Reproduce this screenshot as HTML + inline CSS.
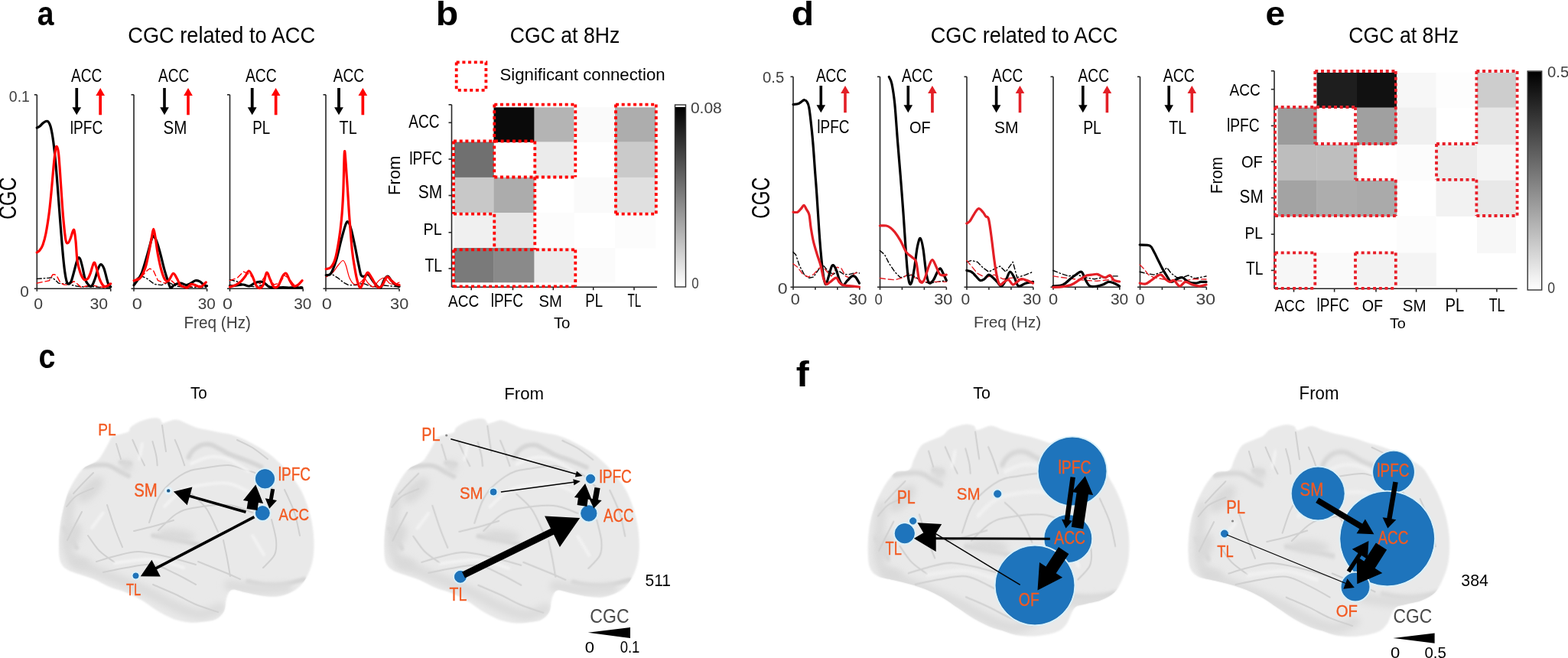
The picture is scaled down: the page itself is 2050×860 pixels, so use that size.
<!DOCTYPE html>
<html><head><meta charset="utf-8"><title>CGC figure</title>
<style>
html,body{margin:0;padding:0;background:#fff;}
svg{display:block;}
text{font-family:'Liberation Sans', Arial, sans-serif;}
</style></head>
<body>
<svg width="2050" height="860" viewBox="0 0 2050 860">
<rect width="2050" height="860" fill="#fff"/>
<text x="48.83" y="32.66" font-size="43.64" textLength="21.73" lengthAdjust="spacingAndGlyphs" fill="#000" font-weight="bold">a</text>
<text x="569.66" y="32.66" font-size="44.35" textLength="29.51" lengthAdjust="spacingAndGlyphs" fill="#000" font-weight="bold">b</text>
<text x="167.24" y="55.50" font-size="30.07" textLength="244.91" lengthAdjust="spacingAndGlyphs" fill="#000">CGC related to ACC</text>
<text x="666.67" y="55.60" font-size="29.86" textLength="143.67" lengthAdjust="spacingAndGlyphs" fill="#000">CGC at 8Hz</text>
<line x1="48.30" y1="123.80" x2="48.30" y2="377.30" stroke="#262626" stroke-width="1.6"/>
<line x1="44.80" y1="123.80" x2="48.30" y2="123.80" stroke="#262626" stroke-width="1.6"/>
<line x1="44.80" y1="377.30" x2="144.70" y2="377.30" stroke="#262626" stroke-width="1.6"/>
<line x1="48.30" y1="377.30" x2="48.30" y2="380.80" stroke="#262626" stroke-width="1.6"/>
<line x1="144.70" y1="377.30" x2="144.70" y2="380.80" stroke="#262626" stroke-width="1.6"/>
<text x="93.00" y="107.27" font-size="23.24" textLength="40.19" lengthAdjust="spacingAndGlyphs" fill="#000">ACC</text>
<polygon points="98.4,115.0 98.4,140.3 94.4,140.3 100.2,150.3 106.1,140.3 102.1,140.3 102.1,115.0" fill="#000"/>
<polygon points="133.0,150.3 133.0,125.0 137.0,125.0 131.2,115.0 125.3,125.0 129.3,125.0 129.3,150.3" fill="#ff0000"/>
<text x="91.76" y="174.76" font-size="23.81" textLength="42.56" lengthAdjust="spacingAndGlyphs" fill="#000">lPFC</text>
<line x1="175.00" y1="123.80" x2="175.00" y2="377.30" stroke="#262626" stroke-width="1.6"/>
<line x1="171.50" y1="123.80" x2="175.00" y2="123.80" stroke="#262626" stroke-width="1.6"/>
<line x1="171.50" y1="377.30" x2="270.60" y2="377.30" stroke="#262626" stroke-width="1.6"/>
<line x1="175.00" y1="377.30" x2="175.00" y2="380.80" stroke="#262626" stroke-width="1.6"/>
<line x1="270.60" y1="377.30" x2="270.60" y2="380.80" stroke="#262626" stroke-width="1.6"/>
<text x="207.00" y="107.27" font-size="23.24" textLength="40.29" lengthAdjust="spacingAndGlyphs" fill="#000">ACC</text>
<polygon points="213.2,115.0 213.2,140.3 209.2,140.3 215.0,150.3 220.8,140.3 216.8,140.3 216.8,115.0" fill="#000"/>
<polygon points="247.8,150.3 247.8,125.0 251.8,125.0 246.0,115.0 240.2,125.0 244.2,125.0 244.2,150.3" fill="#ff0000"/>
<text x="213.48" y="174.77" font-size="23.24" textLength="30.77" lengthAdjust="spacingAndGlyphs" fill="#000">SM</text>
<line x1="300.50" y1="123.80" x2="300.50" y2="377.30" stroke="#262626" stroke-width="1.6"/>
<line x1="297.00" y1="123.80" x2="300.50" y2="123.80" stroke="#262626" stroke-width="1.6"/>
<line x1="297.00" y1="377.30" x2="396.20" y2="377.30" stroke="#262626" stroke-width="1.6"/>
<line x1="300.50" y1="377.30" x2="300.50" y2="380.80" stroke="#262626" stroke-width="1.6"/>
<line x1="396.20" y1="377.30" x2="396.20" y2="380.80" stroke="#262626" stroke-width="1.6"/>
<text x="321.00" y="107.27" font-size="23.24" textLength="40.70" lengthAdjust="spacingAndGlyphs" fill="#000">ACC</text>
<polygon points="327.8,115.0 327.8,140.3 323.8,140.3 329.7,150.3 335.6,140.3 331.6,140.3 331.6,115.0" fill="#000"/>
<polygon points="362.5,150.3 362.5,125.0 366.5,125.0 360.6,115.0 354.8,125.0 358.8,125.0 358.8,150.3" fill="#ff0000"/>
<text x="330.30" y="175.00" font-size="23.91" textLength="22.92" lengthAdjust="spacingAndGlyphs" fill="#000">PL</text>
<line x1="426.00" y1="123.80" x2="426.00" y2="377.30" stroke="#262626" stroke-width="1.6"/>
<line x1="422.50" y1="123.80" x2="426.00" y2="123.80" stroke="#262626" stroke-width="1.6"/>
<line x1="422.50" y1="377.30" x2="522.00" y2="377.30" stroke="#262626" stroke-width="1.6"/>
<line x1="426.00" y1="377.30" x2="426.00" y2="380.80" stroke="#262626" stroke-width="1.6"/>
<line x1="522.00" y1="377.30" x2="522.00" y2="380.80" stroke="#262626" stroke-width="1.6"/>
<text x="435.70" y="107.27" font-size="23.24" textLength="40.29" lengthAdjust="spacingAndGlyphs" fill="#000">ACC</text>
<polygon points="441.1,115.0 441.1,140.3 437.1,140.3 443.0,150.3 448.9,140.3 444.9,140.3 444.9,115.0" fill="#000"/>
<polygon points="476.2,150.3 476.2,125.0 480.2,125.0 474.4,115.0 468.5,125.0 472.5,125.0 472.5,150.3" fill="#ff0000"/>
<text x="443.61" y="175.00" font-size="23.91" textLength="23.03" lengthAdjust="spacingAndGlyphs" fill="#000">TL</text>
<text x="11.82" y="132.79" font-size="21.13" textLength="27.06" lengthAdjust="spacingAndGlyphs" fill="#404040">0.1</text>
<text x="26.17" y="387.80" font-size="20.28" textLength="11.59" lengthAdjust="spacingAndGlyphs" fill="#404040">0</text>
<text x="44.15" y="403.59" font-size="20.85" textLength="11.82" lengthAdjust="spacingAndGlyphs" fill="#404040">0</text>
<text x="117.45" y="403.59" font-size="20.85" textLength="23.64" lengthAdjust="spacingAndGlyphs" fill="#404040">30</text>
<text x="172.86" y="403.59" font-size="20.85" textLength="13.09" lengthAdjust="spacingAndGlyphs" fill="#404040">0</text>
<text x="258.87" y="403.59" font-size="20.85" textLength="23.00" lengthAdjust="spacingAndGlyphs" fill="#404040">30</text>
<text x="291.07" y="403.59" font-size="20.85" textLength="12.98" lengthAdjust="spacingAndGlyphs" fill="#404040">0</text>
<text x="384.27" y="403.59" font-size="20.85" textLength="23.11" lengthAdjust="spacingAndGlyphs" fill="#404040">30</text>
<text x="420.66" y="403.59" font-size="20.85" textLength="13.09" lengthAdjust="spacingAndGlyphs" fill="#404040">0</text>
<text x="510.13" y="403.59" font-size="20.85" textLength="24.07" lengthAdjust="spacingAndGlyphs" fill="#404040">30</text>
<text x="240.44" y="429.03" font-size="21.28" textLength="87.45" lengthAdjust="spacingAndGlyphs" fill="#404040">Freq (Hz)</text>
<text x="0" y="0" transform="translate(21.28,286.84) rotate(-90)" font-size="31.83" textLength="55.16" lengthAdjust="spacingAndGlyphs" fill="#000">CGC</text>
<polyline points="48.3,364.4 56.0,363.8 64.2,363.2 68.2,362.8 72.3,366.0 76.4,370.1 82.0,371.0 87.0,370.1 92.0,372.0 100.0,374.0 110.0,375.0 120.0,374.5 130.0,375.5 140.0,376.0 144.0,376.0" fill="none" stroke="#000" stroke-width="1.4" stroke-linejoin="round" stroke-linecap="round" stroke-dasharray="6,3,1.5,3"/>
<polyline points="48.3,370.1 56.0,368.5 64.2,366.9 69.1,358.7 71.5,358.7 74.3,360.7 78.8,369.3 83.7,372.1 88.6,372.1 92.7,370.1 96.7,367.7 101.0,371.0 106.5,375.8 111.4,374.2 119.5,372.5 127.6,374.2 135.8,375.8 143.9,373.4" fill="none" stroke="#ff0000" stroke-width="1.4" stroke-linejoin="round" stroke-linecap="round" stroke-dasharray="7,4"/>
<path d="M48.3,167.0 C48.9,166.7 50.7,166.0 52.0,165.0 C53.3,164.0 54.7,162.1 56.0,161.0 C57.3,159.9 58.8,158.8 60.0,158.5 C61.2,158.2 62.0,157.9 63.0,159.0 C64.0,160.1 65.0,161.5 66.0,165.0 C67.0,168.5 68.0,173.3 69.0,180.0 C70.0,186.7 71.0,195.0 72.0,205.0 C73.0,215.0 74.0,227.5 75.0,240.0 C76.0,252.5 77.0,267.0 78.0,280.0 C79.0,293.0 80.1,307.2 81.0,318.0 C81.9,328.8 82.7,337.5 83.5,345.0 C84.3,352.5 85.2,358.8 86.0,363.0 C86.8,367.2 87.3,368.7 88.0,370.0 C88.7,371.3 89.2,371.3 90.0,371.0 C90.8,370.7 92.0,370.2 93.0,368.0 C94.0,365.8 94.8,362.2 96.0,358.0 C97.2,353.8 98.9,346.5 100.0,343.0 C101.1,339.5 101.7,337.7 102.5,337.0 C103.3,336.3 104.1,336.8 105.0,339.0 C105.9,341.2 107.0,345.8 108.0,350.0 C109.0,354.2 109.9,360.5 111.0,364.0 C112.1,367.5 113.2,369.3 114.6,371.0 C116.0,372.7 117.9,375.2 119.5,374.2 C121.1,373.2 122.6,368.7 124.0,365.0 C125.4,361.3 126.7,355.2 128.0,352.0 C129.3,348.8 130.4,345.9 131.7,345.7 C133.0,345.5 134.6,347.9 135.8,350.6 C137.0,353.3 138.1,358.6 139.0,362.0 C139.9,365.4 140.6,368.7 141.5,370.9 C142.4,373.1 144.2,374.3 144.7,375.0" fill="none" stroke="#000" stroke-width="3.2" stroke-linejoin="round" stroke-linecap="round"/>
<path d="M48.3,330.0 C48.9,329.5 50.7,328.7 52.0,327.0 C53.3,325.3 54.7,323.7 56.0,320.0 C57.3,316.3 58.7,311.7 60.0,305.0 C61.3,298.3 62.8,288.8 64.0,280.0 C65.2,271.2 66.0,262.3 67.0,252.0 C68.0,241.7 69.1,227.3 70.0,218.0 C70.9,208.7 71.8,200.4 72.5,196.0 C73.2,191.6 73.7,190.9 74.4,191.6 C75.1,192.3 75.8,194.4 76.5,200.0 C77.2,205.6 77.8,215.8 78.5,225.0 C79.2,234.2 79.8,244.5 80.5,255.0 C81.2,265.5 82.1,278.2 83.0,288.0 C83.9,297.8 85.0,309.1 86.0,314.0 C87.0,318.9 88.0,317.8 89.0,317.5 C90.0,317.2 91.0,314.4 92.0,312.0 C93.0,309.6 94.2,304.8 95.0,303.0 C95.8,301.2 96.3,299.0 97.0,301.0 C97.7,303.0 98.3,308.5 99.0,315.0 C99.7,321.5 100.0,333.1 101.0,340.0 C102.0,346.9 103.5,352.1 104.9,356.3 C106.4,360.5 108.1,363.9 109.7,365.2 C111.3,366.5 113.2,365.6 114.6,364.4 C116.0,363.2 116.5,361.4 117.9,357.9 C119.3,354.4 121.5,344.6 122.8,343.3 C124.1,342.0 124.8,346.3 126.0,349.8 C127.2,353.3 128.6,360.5 130.1,364.4 C131.6,368.3 133.5,371.8 135.0,373.4 C136.5,375.0 137.4,374.6 139.0,374.2 C140.6,373.8 143.8,371.4 144.7,370.9" fill="none" stroke="#ff0000" stroke-width="3.2" stroke-linejoin="round" stroke-linecap="round"/>
<polyline points="175.0,372.6 180.0,366.0 185.6,361.0 192.6,364.4 201.9,371.4 211.2,372.6 220.5,369.0 230.0,374.0 240.0,375.0 255.0,375.5 270.0,375.5" fill="none" stroke="#000" stroke-width="1.4" stroke-linejoin="round" stroke-linecap="round" stroke-dasharray="6,3,1.5,3"/>
<polyline points="175.0,368.0 181.0,362.0 187.9,358.6 193.0,353.0 196.0,351.0 200.7,354.0 206.5,366.7 215.8,370.2 224.0,366.7 230.0,372.0 240.0,375.0 255.0,374.0 270.0,373.0" fill="none" stroke="#ff0000" stroke-width="1.4" stroke-linejoin="round" stroke-linecap="round" stroke-dasharray="7,4"/>
<path d="M175.1,372.6 C175.9,371.5 178.2,368.8 180.0,366.0 C181.8,363.2 183.5,361.5 185.6,356.0 C187.7,350.5 190.5,340.3 192.6,333.0 C194.7,325.7 197.1,316.1 198.4,312.0 C199.8,307.9 199.5,307.8 200.7,308.6 C201.8,309.4 203.8,312.6 205.3,316.7 C206.9,320.8 208.4,327.2 210.0,333.0 C211.6,338.8 213.1,346.0 214.7,351.6 C216.2,357.2 218.0,362.6 219.3,366.7 C220.7,370.8 221.6,374.8 222.8,376.0 C224.0,377.2 225.1,374.5 226.3,373.7 C227.5,372.9 228.1,372.0 229.8,371.4 C231.5,370.8 234.4,370.0 236.7,370.2 C239.0,370.4 241.6,372.6 243.7,372.6 C245.8,372.6 247.6,371.2 249.5,370.2 C251.4,369.2 253.4,367.1 255.3,366.7 C257.2,366.3 259.2,366.9 261.2,367.9 C263.1,368.9 265.4,371.6 267.0,372.6 C268.6,373.6 269.9,373.5 270.5,373.7" fill="none" stroke="#000" stroke-width="3.2" stroke-linejoin="round" stroke-linecap="round"/>
<path d="M175.1,366.7 C176.5,366.1 180.8,366.2 183.3,363.3 C185.8,360.4 188.3,355.1 190.2,349.3 C192.1,343.5 193.5,335.0 194.9,328.4 C196.3,321.8 197.4,314.6 198.4,309.8 C199.4,305.0 199.9,299.3 200.7,299.3 C201.5,299.3 202.0,304.2 203.0,309.8 C204.0,315.4 205.1,325.6 206.5,333.0 C207.9,340.4 209.6,348.6 211.2,354.0 C212.8,359.4 214.2,363.5 215.8,365.6 C217.4,367.7 218.8,368.1 220.5,366.7 C222.2,365.3 224.6,358.0 226.3,357.4 C228.1,356.8 229.4,360.8 231.0,363.3 C232.6,365.8 234.1,370.7 235.6,372.6 C237.1,374.5 238.6,374.3 240.2,374.9 C241.8,375.5 243.3,376.6 244.9,376.0 C246.5,375.4 247.8,372.0 249.5,371.4 C251.2,370.8 253.2,372.0 255.3,372.6 C257.4,373.2 260.0,375.5 262.3,374.9 C264.6,374.3 268.1,370.0 269.3,369.0" fill="none" stroke="#ff0000" stroke-width="3.2" stroke-linejoin="round" stroke-linecap="round"/>
<polyline points="300.5,365.6 310.2,368.0 318.0,372.0 326.0,374.0 335.0,375.0 345.0,372.0 355.0,375.0 370.0,376.0 385.0,375.0 395.0,375.0" fill="none" stroke="#000" stroke-width="1.4" stroke-linejoin="round" stroke-linecap="round" stroke-dasharray="6,3,1.5,3"/>
<polyline points="300.5,366.7 310.2,363.3 318.4,355.0 326.5,358.6 333.0,366.0 340.0,371.0 347.0,360.0 352.0,362.0 358.0,372.0 366.0,370.0 372.0,360.0 378.0,364.0 384.0,372.0 390.0,372.0 395.0,368.0" fill="none" stroke="#ff0000" stroke-width="1.4" stroke-linejoin="round" stroke-linecap="round" stroke-dasharray="7,4"/>
<path d="M300.5,373.7 C302.1,373.6 307.1,373.3 310.0,373.0 C312.9,372.7 315.3,371.8 318.0,372.0 C320.7,372.2 323.5,374.3 326.0,374.0 C328.5,373.7 330.6,371.0 333.0,370.0 C335.4,369.0 338.3,368.0 340.5,368.0 C342.7,368.0 344.1,368.8 346.0,370.0 C347.9,371.2 349.7,374.0 352.0,375.0 C354.3,376.0 357.0,375.9 360.0,376.0 C363.0,376.1 366.7,375.5 370.0,375.5 C373.3,375.5 375.8,375.9 380.0,376.0 C384.2,376.1 392.5,376.0 395.0,376.0" fill="none" stroke="#000" stroke-width="3.2" stroke-linejoin="round" stroke-linecap="round"/>
<path d="M300.5,375.0 C301.7,374.6 305.5,373.8 307.9,372.6 C310.3,371.4 312.8,369.8 314.9,367.9 C317.0,366.0 319.0,363.3 320.7,361.0 C322.4,358.7 323.8,354.0 325.3,354.0 C326.9,354.0 328.4,357.9 330.0,361.0 C331.6,364.1 333.1,370.0 334.7,372.6 C336.2,375.2 337.8,376.7 339.3,376.7 C340.9,376.7 342.4,376.0 344.0,372.6 C345.6,369.2 347.1,357.5 348.6,356.3 C350.2,355.1 351.8,362.5 353.3,365.6 C354.9,368.7 356.2,373.5 357.9,374.9 C359.6,376.2 361.8,376.0 363.7,373.7 C365.6,371.4 367.8,363.7 369.5,361.0 C371.2,358.3 372.6,356.4 374.2,357.4 C375.8,358.3 377.2,364.0 378.8,366.7 C380.4,369.4 381.8,372.7 383.5,373.7 C385.2,374.7 387.4,373.8 389.3,372.6 C391.2,371.4 394.1,367.7 395.1,366.7" fill="none" stroke="#ff0000" stroke-width="3.2" stroke-linejoin="round" stroke-linecap="round"/>
<polyline points="426.3,359.8 434.9,359.0 441.9,363.3 448.8,369.0 455.8,372.6 465.1,372.6 474.4,370.2 483.7,373.7 493.0,375.0 502.0,373.0 512.0,374.0 522.0,375.0" fill="none" stroke="#000" stroke-width="1.4" stroke-linejoin="round" stroke-linecap="round" stroke-dasharray="6,3,1.5,3"/>
<path d="M426.3,362.0 C427.7,361.1 432.3,358.8 434.9,356.3 C437.5,353.8 439.6,349.6 441.9,347.0 C444.1,344.4 446.7,340.5 448.4,340.5 C450.1,340.5 450.9,343.2 452.3,347.0 C453.7,350.8 455.2,359.2 457.0,363.3 C458.8,367.4 460.7,370.2 462.8,371.4 C464.9,372.5 467.5,371.4 469.8,370.2 C472.1,369.0 474.8,364.4 476.7,364.4 C478.6,364.4 479.4,368.4 481.4,370.2 C483.3,371.9 486.1,375.5 488.4,374.9 C490.7,374.3 493.0,368.6 495.3,366.7 C497.6,364.8 500.0,362.7 502.3,363.3 C504.6,363.9 507.0,368.9 509.3,370.2 C511.6,371.5 514.2,371.6 516.3,371.4 C518.4,371.2 521.0,369.4 522.0,369.0" fill="none" stroke="#ff0000" stroke-width="1.2" stroke-linejoin="round" stroke-linecap="round"/>
<path d="M426.3,359.8 C427.4,359.4 430.4,360.7 432.6,357.4 C434.8,354.1 437.2,347.6 439.5,340.0 C441.8,332.4 444.4,319.9 446.5,312.0 C448.6,304.1 450.8,295.9 452.3,292.3 C453.9,288.8 454.6,289.3 455.8,290.7 C457.0,292.1 457.9,295.4 459.3,300.5 C460.7,305.6 462.4,314.0 464.0,321.4 C465.6,328.8 467.2,338.3 468.6,344.7 C470.0,351.1 470.8,357.1 472.1,359.8 C473.5,362.5 475.1,361.2 476.7,361.0 C478.2,360.8 479.6,357.7 481.4,358.6 C483.1,359.6 485.3,364.2 487.2,366.7 C489.1,369.2 491.2,372.1 493.0,373.7 C494.8,375.2 496.1,377.4 497.7,376.0 C499.2,374.6 500.8,368.1 502.3,365.6 C503.9,363.1 505.4,360.8 507.0,361.0 C508.6,361.2 509.9,364.8 511.6,366.7 C513.3,368.6 515.7,371.3 517.4,372.6 C519.1,373.9 521.2,374.1 522.0,374.4" fill="none" stroke="#000" stroke-width="3.2" stroke-linejoin="round" stroke-linecap="round"/>
<path d="M426.3,351.6 C427.4,351.2 430.6,351.6 432.6,349.3 C434.6,347.0 436.7,343.5 438.4,337.7 C440.1,331.9 441.6,322.9 443.0,314.4 C444.4,305.9 445.5,297.2 446.5,286.5 C447.5,275.8 448.2,264.5 448.8,250.0 C449.4,235.5 449.8,205.8 450.3,199.5 C450.8,193.2 451.3,203.3 452.0,212.0 C452.7,220.7 453.9,239.2 454.7,251.6 C455.5,264.0 456.0,273.7 457.0,286.5 C458.0,299.3 459.3,317.5 460.5,328.4 C461.7,339.2 462.9,345.0 464.0,351.6 C465.1,358.2 466.2,363.9 467.4,368.0 C468.5,372.1 469.7,375.6 470.9,376.0 C472.1,376.4 472.8,373.5 474.4,370.2 C475.9,366.9 478.3,357.4 480.2,356.3 C482.1,355.2 484.2,360.8 486.0,363.3 C487.8,365.8 489.1,369.3 490.7,371.4 C492.2,373.5 493.8,375.8 495.3,376.0 C496.9,376.2 498.2,374.9 500.0,372.6 C501.8,370.3 503.9,363.0 505.8,362.0 C507.7,361.0 509.7,365.1 511.6,366.7 C513.5,368.3 515.7,370.4 517.4,371.4 C519.1,372.4 521.2,372.4 522.0,372.6" fill="none" stroke="#ff0000" stroke-width="3.2" stroke-linejoin="round" stroke-linecap="round"/>
<rect x="645.5" y="140.3" width="53.3" height="45.5" fill="rgb(10,10,10)"/>
<rect x="698.5" y="140.3" width="52.3" height="45.5" fill="rgb(180,180,180)"/>
<rect x="750.5" y="140.3" width="53.8" height="45.5" fill="rgb(250,250,250)"/>
<rect x="804" y="140.3" width="53.3" height="45.5" fill="rgb(173,173,173)"/>
<rect x="594" y="185.5" width="51.8" height="46.6" fill="rgb(112,112,112)"/>
<rect x="698.5" y="185.5" width="52.3" height="46.6" fill="rgb(235,235,235)"/>
<rect x="804" y="185.5" width="53.3" height="46.6" fill="rgb(202,202,202)"/>
<rect x="594" y="231.8" width="51.8" height="46.5" fill="rgb(200,200,200)"/>
<rect x="645.5" y="231.8" width="53.3" height="46.5" fill="rgb(172,172,172)"/>
<rect x="750.5" y="231.8" width="53.8" height="46.5" fill="rgb(250,250,250)"/>
<rect x="804" y="231.8" width="53.3" height="46.5" fill="rgb(224,224,224)"/>
<rect x="594" y="278" width="51.8" height="46.3" fill="rgb(240,240,240)"/>
<rect x="645.5" y="278" width="53.3" height="46.3" fill="rgb(230,230,230)"/>
<rect x="698.5" y="278" width="52.3" height="46.3" fill="rgb(252,252,252)"/>
<rect x="804" y="278" width="53.3" height="46.3" fill="rgb(252,252,252)"/>
<rect x="594" y="324" width="51.8" height="45.3" fill="rgb(122,122,122)"/>
<rect x="645.5" y="324" width="53.3" height="45.3" fill="rgb(138,138,138)"/>
<rect x="698.5" y="324" width="52.3" height="45.3" fill="rgb(235,235,235)"/>
<rect x="750.5" y="324" width="53.8" height="45.3" fill="rgb(251,251,251)"/>
<line x1="590.50" y1="136.80" x2="590.50" y2="375.20" stroke="#262626" stroke-width="1.6"/>
<line x1="586.50" y1="136.80" x2="590.50" y2="136.80" stroke="#262626" stroke-width="1.6"/>
<line x1="590.50" y1="375.20" x2="859.00" y2="375.20" stroke="#262626" stroke-width="1.6"/>
<line x1="586.50" y1="160.30" x2="590.50" y2="160.30" stroke="#262626" stroke-width="1.6"/>
<line x1="586.50" y1="208.00" x2="590.50" y2="208.00" stroke="#262626" stroke-width="1.6"/>
<line x1="586.50" y1="255.50" x2="590.50" y2="255.50" stroke="#262626" stroke-width="1.6"/>
<line x1="586.50" y1="303.80" x2="590.50" y2="303.80" stroke="#262626" stroke-width="1.6"/>
<line x1="586.50" y1="351.00" x2="590.50" y2="351.00" stroke="#262626" stroke-width="1.6"/>
<line x1="616.20" y1="375.20" x2="616.20" y2="379.20" stroke="#262626" stroke-width="1.6"/>
<line x1="670.50" y1="375.20" x2="670.50" y2="379.20" stroke="#262626" stroke-width="1.6"/>
<line x1="723.30" y1="375.20" x2="723.30" y2="379.20" stroke="#262626" stroke-width="1.6"/>
<line x1="775.70" y1="375.20" x2="775.70" y2="379.20" stroke="#262626" stroke-width="1.6"/>
<line x1="829.00" y1="375.20" x2="829.00" y2="379.20" stroke="#262626" stroke-width="1.6"/>
<line x1="646.30" y1="136.60" x2="752.30" y2="136.60" stroke="#ff0000" stroke-width="3.8" stroke-dasharray="4,3.7"/>
<line x1="646.30" y1="136.60" x2="646.30" y2="231.50" stroke="#ff0000" stroke-width="3.8" stroke-dasharray="4,3.7"/>
<line x1="752.30" y1="136.60" x2="752.30" y2="231.50" stroke="#ff0000" stroke-width="3.8" stroke-dasharray="4,3.7"/>
<line x1="593.00" y1="184.50" x2="699.30" y2="184.50" stroke="#ff0000" stroke-width="3.8" stroke-dasharray="4,3.7"/>
<line x1="646.30" y1="231.50" x2="752.30" y2="231.50" stroke="#ff0000" stroke-width="3.8" stroke-dasharray="4,3.7"/>
<line x1="699.30" y1="184.50" x2="699.30" y2="231.50" stroke="#ff0000" stroke-width="3.8" stroke-dasharray="4,3.7"/>
<line x1="593.00" y1="184.50" x2="593.00" y2="279.70" stroke="#ff0000" stroke-width="3.8" stroke-dasharray="4,3.7"/>
<line x1="593.00" y1="279.70" x2="646.30" y2="279.70" stroke="#ff0000" stroke-width="3.8" stroke-dasharray="4,3.7"/>
<line x1="699.30" y1="231.50" x2="699.30" y2="326.40" stroke="#ff0000" stroke-width="3.8" stroke-dasharray="4,3.7"/>
<line x1="646.30" y1="279.70" x2="646.30" y2="326.40" stroke="#ff0000" stroke-width="3.8" stroke-dasharray="4,3.7"/>
<line x1="593.00" y1="326.40" x2="752.30" y2="326.40" stroke="#ff0000" stroke-width="3.8" stroke-dasharray="4,3.7"/>
<line x1="593.00" y1="374.40" x2="752.30" y2="374.40" stroke="#ff0000" stroke-width="3.8" stroke-dasharray="4,3.7"/>
<line x1="593.00" y1="326.40" x2="593.00" y2="374.40" stroke="#ff0000" stroke-width="3.8" stroke-dasharray="4,3.7"/>
<line x1="752.30" y1="326.40" x2="752.30" y2="374.40" stroke="#ff0000" stroke-width="3.8" stroke-dasharray="4,3.7"/>
<line x1="805.00" y1="136.60" x2="857.80" y2="136.60" stroke="#ff0000" stroke-width="3.8" stroke-dasharray="4,3.7"/>
<line x1="805.00" y1="279.70" x2="857.80" y2="279.70" stroke="#ff0000" stroke-width="3.8" stroke-dasharray="4,3.7"/>
<line x1="805.00" y1="136.60" x2="805.00" y2="279.70" stroke="#ff0000" stroke-width="3.8" stroke-dasharray="4,3.7"/>
<line x1="857.80" y1="136.60" x2="857.80" y2="279.70" stroke="#ff0000" stroke-width="3.8" stroke-dasharray="4,3.7"/>
<rect x="596.7" y="81.4" width="38.7" height="36.5" fill="none" stroke="#ff0000" stroke-width="3.8" stroke-dasharray="4,3.7"/>
<text x="653.40" y="104.74" font-size="21.71" textLength="216.32" lengthAdjust="spacingAndGlyphs" fill="#000">Significant connection</text>
<defs><linearGradient id="gb" x1="0" y1="0" x2="0" y2="1"><stop offset="0" stop-color="#000"/><stop offset="1" stop-color="#fff"/></linearGradient></defs>
<rect x="882.5" y="139.5" width="14" height="235" fill="url(#gb)"/>
<rect x="882.5" y="137.2" width="14" height="2.6" fill="#fff"/>
<rect x="882.5" y="137" width="14" height="238" fill="none" stroke="#333" stroke-width="1.4"/>
<text x="902.96" y="147.80" font-size="19.72" textLength="40.81" lengthAdjust="spacingAndGlyphs" fill="#404040">0.08</text>
<text x="904.33" y="377.31" font-size="19.30" textLength="9.39" lengthAdjust="spacingAndGlyphs" fill="#404040">0</text>
<text x="534.20" y="167.36" font-size="23.94" textLength="40.19" lengthAdjust="spacingAndGlyphs" fill="#000">ACC</text>
<text x="535.25" y="215.06" font-size="23.67" textLength="42.87" lengthAdjust="spacingAndGlyphs" fill="#000">lPFC</text>
<text x="546.66" y="259.36" font-size="23.94" textLength="31.42" lengthAdjust="spacingAndGlyphs" fill="#000">SM</text>
<text x="553.52" y="306.80" font-size="22.90" textLength="24.13" lengthAdjust="spacingAndGlyphs" fill="#000">PL</text>
<text x="555.41" y="354.50" font-size="23.04" textLength="22.61" lengthAdjust="spacingAndGlyphs" fill="#000">TL</text>
<text x="0" y="0" transform="translate(522.78,254.96) rotate(-90)" font-size="22.29" textLength="51.46" lengthAdjust="spacingAndGlyphs" fill="#000">From</text>
<text x="586.00" y="400.67" font-size="22.96" textLength="40.19" lengthAdjust="spacingAndGlyphs" fill="#000">ACC</text>
<text x="641.66" y="400.67" font-size="23.27" textLength="42.24" lengthAdjust="spacingAndGlyphs" fill="#000">lPFC</text>
<text x="704.59" y="400.67" font-size="22.96" textLength="30.33" lengthAdjust="spacingAndGlyphs" fill="#000">SM</text>
<text x="765.31" y="400.90" font-size="23.62" textLength="22.81" lengthAdjust="spacingAndGlyphs" fill="#000">PL</text>
<text x="820.49" y="400.90" font-size="23.62" textLength="17.90" lengthAdjust="spacingAndGlyphs" fill="#000">TL</text>
<text x="723.89" y="428.79" font-size="21.00" textLength="21.65" lengthAdjust="spacingAndGlyphs" fill="#000">To</text>
<text x="1654.56" y="33.06" font-size="44.00" textLength="25.61" lengthAdjust="spacingAndGlyphs" fill="#000" font-weight="bold">e</text>
<text x="1763.27" y="55.70" font-size="30.42" textLength="143.77" lengthAdjust="spacingAndGlyphs" fill="#000">CGC at 8Hz</text>
<rect x="1721.5" y="95" width="52.8" height="45.9" fill="rgb(30,30,30)"/>
<rect x="1774" y="95" width="52.3" height="45.9" fill="rgb(17,17,17)"/>
<rect x="1826" y="95" width="51.8" height="45.9" fill="rgb(247,247,247)"/>
<rect x="1877.5" y="95" width="53.8" height="45.9" fill="rgb(253,253,253)"/>
<rect x="1931" y="95" width="51.1" height="45.9" fill="rgb(205,205,205)"/>
<rect x="1670.5" y="140.6" width="51.3" height="48.7" fill="rgb(155,155,155)"/>
<rect x="1774" y="140.6" width="52.3" height="48.7" fill="rgb(160,160,160)"/>
<rect x="1826" y="140.6" width="51.8" height="48.7" fill="rgb(240,240,240)"/>
<rect x="1931" y="140.6" width="51.1" height="48.7" fill="rgb(230,230,230)"/>
<rect x="1670.5" y="189" width="51.3" height="47.1" fill="rgb(189,189,189)"/>
<rect x="1721.5" y="189" width="52.8" height="47.1" fill="rgb(190,190,190)"/>
<rect x="1826" y="189" width="51.8" height="47.1" fill="rgb(252,252,252)"/>
<rect x="1877.5" y="189" width="53.8" height="47.1" fill="rgb(236,236,236)"/>
<rect x="1931" y="189" width="51.1" height="47.1" fill="rgb(245,245,245)"/>
<rect x="1670.5" y="235.8" width="51.3" height="47.0" fill="rgb(163,163,163)"/>
<rect x="1721.5" y="235.8" width="52.8" height="47.0" fill="rgb(173,173,173)"/>
<rect x="1774" y="235.8" width="52.3" height="47.0" fill="rgb(170,170,170)"/>
<rect x="1877.5" y="235.8" width="53.8" height="47.0" fill="rgb(242,242,242)"/>
<rect x="1931" y="235.8" width="51.1" height="47.0" fill="rgb(232,232,232)"/>
<rect x="1826" y="282.5" width="51.8" height="48.3" fill="rgb(252,252,252)"/>
<rect x="1931" y="282.5" width="51.1" height="48.3" fill="rgb(247,247,247)"/>
<rect x="1670.5" y="330.5" width="51.3" height="43.5" fill="rgb(247,247,247)"/>
<rect x="1721.5" y="330.5" width="52.8" height="43.5" fill="rgb(250,250,250)"/>
<rect x="1774" y="330.5" width="52.3" height="43.5" fill="rgb(242,242,242)"/>
<rect x="1826" y="330.5" width="51.8" height="43.5" fill="rgb(244,244,244)"/>
<line x1="1666.00" y1="92.70" x2="1666.00" y2="377.20" stroke="#262626" stroke-width="1.6"/>
<line x1="1661.80" y1="92.70" x2="1666.00" y2="92.70" stroke="#262626" stroke-width="1.6"/>
<line x1="1666.00" y1="377.20" x2="1983.60" y2="377.20" stroke="#262626" stroke-width="1.6"/>
<line x1="1661.80" y1="116.70" x2="1666.00" y2="116.70" stroke="#262626" stroke-width="1.6"/>
<line x1="1661.80" y1="164.40" x2="1666.00" y2="164.40" stroke="#262626" stroke-width="1.6"/>
<line x1="1661.80" y1="211.40" x2="1666.00" y2="211.40" stroke="#262626" stroke-width="1.6"/>
<line x1="1661.80" y1="258.60" x2="1666.00" y2="258.60" stroke="#262626" stroke-width="1.6"/>
<line x1="1661.80" y1="306.20" x2="1666.00" y2="306.20" stroke="#262626" stroke-width="1.6"/>
<line x1="1661.80" y1="353.40" x2="1666.00" y2="353.40" stroke="#262626" stroke-width="1.6"/>
<line x1="1691.50" y1="377.20" x2="1691.50" y2="381.60" stroke="#262626" stroke-width="1.6"/>
<line x1="1744.60" y1="377.20" x2="1744.60" y2="381.60" stroke="#262626" stroke-width="1.6"/>
<line x1="1799.00" y1="377.20" x2="1799.00" y2="381.60" stroke="#262626" stroke-width="1.6"/>
<line x1="1851.60" y1="377.20" x2="1851.60" y2="381.60" stroke="#262626" stroke-width="1.6"/>
<line x1="1904.30" y1="377.20" x2="1904.30" y2="381.60" stroke="#262626" stroke-width="1.6"/>
<line x1="1956.90" y1="377.20" x2="1956.90" y2="381.60" stroke="#262626" stroke-width="1.6"/>
<line x1="1719.30" y1="93.00" x2="1824.80" y2="93.00" stroke="#e8202a" stroke-width="3.8" stroke-dasharray="4,3.7"/>
<line x1="1719.30" y1="93.00" x2="1719.30" y2="188.00" stroke="#e8202a" stroke-width="3.8" stroke-dasharray="4,3.7"/>
<line x1="1824.80" y1="93.00" x2="1824.80" y2="188.00" stroke="#e8202a" stroke-width="3.8" stroke-dasharray="4,3.7"/>
<line x1="1719.30" y1="188.00" x2="1824.80" y2="188.00" stroke="#e8202a" stroke-width="3.8" stroke-dasharray="4,3.7"/>
<line x1="1772.00" y1="140.00" x2="1772.00" y2="234.80" stroke="#e8202a" stroke-width="3.8" stroke-dasharray="4,3.7"/>
<line x1="1667.00" y1="140.00" x2="1772.00" y2="140.00" stroke="#e8202a" stroke-width="3.8" stroke-dasharray="4,3.7"/>
<line x1="1667.00" y1="140.00" x2="1667.00" y2="282.00" stroke="#e8202a" stroke-width="3.8" stroke-dasharray="4,3.7"/>
<line x1="1667.00" y1="282.00" x2="1824.80" y2="282.00" stroke="#e8202a" stroke-width="3.8" stroke-dasharray="4,3.7"/>
<line x1="1824.80" y1="234.80" x2="1824.80" y2="282.00" stroke="#e8202a" stroke-width="3.8" stroke-dasharray="4,3.7"/>
<line x1="1772.00" y1="234.80" x2="1824.80" y2="234.80" stroke="#e8202a" stroke-width="3.8" stroke-dasharray="4,3.7"/>
<line x1="1878.00" y1="188.00" x2="1930.40" y2="188.00" stroke="#e8202a" stroke-width="3.8" stroke-dasharray="4,3.7"/>
<line x1="1878.00" y1="188.00" x2="1878.00" y2="234.80" stroke="#e8202a" stroke-width="3.8" stroke-dasharray="4,3.7"/>
<line x1="1878.00" y1="234.80" x2="1930.40" y2="234.80" stroke="#e8202a" stroke-width="3.8" stroke-dasharray="4,3.7"/>
<line x1="1930.40" y1="93.00" x2="1930.40" y2="188.00" stroke="#e8202a" stroke-width="3.8" stroke-dasharray="4,3.7"/>
<line x1="1930.40" y1="234.80" x2="1930.40" y2="282.00" stroke="#e8202a" stroke-width="3.8" stroke-dasharray="4,3.7"/>
<line x1="1930.40" y1="93.00" x2="1983.60" y2="93.00" stroke="#e8202a" stroke-width="3.8" stroke-dasharray="4,3.7"/>
<line x1="1983.60" y1="93.00" x2="1983.60" y2="282.00" stroke="#e8202a" stroke-width="3.8" stroke-dasharray="4,3.7"/>
<line x1="1930.40" y1="282.00" x2="1983.60" y2="282.00" stroke="#e8202a" stroke-width="3.8" stroke-dasharray="4,3.7"/>
<line x1="1667.00" y1="330.30" x2="1719.30" y2="330.30" stroke="#e8202a" stroke-width="3.8" stroke-dasharray="4,3.7"/>
<line x1="1667.00" y1="376.80" x2="1719.30" y2="376.80" stroke="#e8202a" stroke-width="3.8" stroke-dasharray="4,3.7"/>
<line x1="1667.00" y1="330.30" x2="1667.00" y2="376.80" stroke="#e8202a" stroke-width="3.8" stroke-dasharray="4,3.7"/>
<line x1="1719.30" y1="330.30" x2="1719.30" y2="376.80" stroke="#e8202a" stroke-width="3.8" stroke-dasharray="4,3.7"/>
<line x1="1772.00" y1="330.30" x2="1824.80" y2="330.30" stroke="#e8202a" stroke-width="3.8" stroke-dasharray="4,3.7"/>
<line x1="1772.00" y1="376.80" x2="1824.80" y2="376.80" stroke="#e8202a" stroke-width="3.8" stroke-dasharray="4,3.7"/>
<line x1="1772.00" y1="330.30" x2="1772.00" y2="376.80" stroke="#e8202a" stroke-width="3.8" stroke-dasharray="4,3.7"/>
<line x1="1824.80" y1="330.30" x2="1824.80" y2="376.80" stroke="#e8202a" stroke-width="3.8" stroke-dasharray="4,3.7"/>
<rect x="1997.2" y="93.5" width="18.5" height="285" fill="url(#gb)"/>
<rect x="1997.2" y="93" width="18.5" height="286" fill="none" stroke="#333" stroke-width="1.4"/>
<text x="2023.09" y="101.30" font-size="20.00" textLength="28.23" lengthAdjust="spacingAndGlyphs" fill="#404040">0.5</text>
<text x="2023.29" y="383.29" font-size="21.13" textLength="9.85" lengthAdjust="spacingAndGlyphs" fill="#404040">0</text>
<text x="1607.60" y="124.67" font-size="22.68" textLength="40.19" lengthAdjust="spacingAndGlyphs" fill="#000">ACC</text>
<text x="1603.95" y="171.67" font-size="23.27" textLength="42.66" lengthAdjust="spacingAndGlyphs" fill="#000">lPFC</text>
<text x="1622.90" y="218.87" font-size="22.68" textLength="27.77" lengthAdjust="spacingAndGlyphs" fill="#000">OF</text>
<text x="1620.57" y="264.67" font-size="23.38" textLength="31.10" lengthAdjust="spacingAndGlyphs" fill="#000">SM</text>
<text x="1627.46" y="311.90" font-size="22.03" textLength="23.47" lengthAdjust="spacingAndGlyphs" fill="#000">PL</text>
<text x="1629.12" y="359.00" font-size="23.19" textLength="22.40" lengthAdjust="spacingAndGlyphs" fill="#000">TL</text>
<text x="0" y="0" transform="translate(1598.07,253.25) rotate(-90)" font-size="22.71" textLength="48.26" lengthAdjust="spacingAndGlyphs" fill="#000">From</text>
<text x="1666.50" y="406.57" font-size="22.96" textLength="39.79" lengthAdjust="spacingAndGlyphs" fill="#000">ACC</text>
<text x="1721.56" y="406.57" font-size="23.13" textLength="42.45" lengthAdjust="spacingAndGlyphs" fill="#000">lPFC</text>
<text x="1780.81" y="406.57" font-size="22.96" textLength="27.35" lengthAdjust="spacingAndGlyphs" fill="#000">OF</text>
<text x="1833.77" y="406.57" font-size="22.96" textLength="30.88" lengthAdjust="spacingAndGlyphs" fill="#000">SM</text>
<text x="1889.38" y="406.80" font-size="23.62" textLength="24.79" lengthAdjust="spacingAndGlyphs" fill="#000">PL</text>
<text x="1946.64" y="406.80" font-size="23.62" textLength="20.93" lengthAdjust="spacingAndGlyphs" fill="#000">TL</text>
<text x="1816.90" y="428.51" font-size="19.14" textLength="20.91" lengthAdjust="spacingAndGlyphs" fill="#000">To</text>
<text x="1034.78" y="32.56" font-size="44.22" textLength="29.39" lengthAdjust="spacingAndGlyphs" fill="#000" font-weight="bold">d</text>
<text x="1216.74" y="55.50" font-size="30.34" textLength="244.61" lengthAdjust="spacingAndGlyphs" fill="#000">CGC related to ACC</text>
<line x1="1037.00" y1="100.30" x2="1037.00" y2="375.30" stroke="#262626" stroke-width="1.6"/>
<line x1="1033.50" y1="100.30" x2="1037.00" y2="100.30" stroke="#262626" stroke-width="1.6"/>
<line x1="1033.50" y1="375.30" x2="1123.80" y2="375.30" stroke="#262626" stroke-width="1.6"/>
<line x1="1037.00" y1="375.30" x2="1037.00" y2="378.80" stroke="#262626" stroke-width="1.6"/>
<line x1="1065.90" y1="375.30" x2="1065.90" y2="378.80" stroke="#262626" stroke-width="1.6"/>
<line x1="1094.90" y1="375.30" x2="1094.90" y2="378.80" stroke="#262626" stroke-width="1.6"/>
<line x1="1123.80" y1="375.30" x2="1123.80" y2="378.80" stroke="#262626" stroke-width="1.6"/>
<text x="1066.90" y="107.06" font-size="23.52" textLength="39.99" lengthAdjust="spacingAndGlyphs" fill="#000">ACC</text>
<polygon points="1071.5,112.0 1071.5,137.2 1067.5,137.2 1073.3,147.2 1079.1,137.2 1075.1,137.2 1075.1,112.0" fill="#000"/>
<polygon points="1106.8,147.2 1106.8,122.0 1110.8,122.0 1105.0,112.0 1099.2,122.0 1103.2,122.0 1103.2,147.2" fill="#e31f26"/>
<text x="1068.37" y="174.37" font-size="23.13" textLength="42.14" lengthAdjust="spacingAndGlyphs" fill="#000">lPFC</text>
<line x1="1150.50" y1="100.30" x2="1150.50" y2="375.30" stroke="#262626" stroke-width="1.6"/>
<line x1="1147.00" y1="100.30" x2="1150.50" y2="100.30" stroke="#262626" stroke-width="1.6"/>
<line x1="1147.00" y1="375.30" x2="1237.30" y2="375.30" stroke="#262626" stroke-width="1.6"/>
<line x1="1150.50" y1="375.30" x2="1150.50" y2="378.80" stroke="#262626" stroke-width="1.6"/>
<line x1="1179.40" y1="375.30" x2="1179.40" y2="378.80" stroke="#262626" stroke-width="1.6"/>
<line x1="1208.40" y1="375.30" x2="1208.40" y2="378.80" stroke="#262626" stroke-width="1.6"/>
<line x1="1237.30" y1="375.30" x2="1237.30" y2="378.80" stroke="#262626" stroke-width="1.6"/>
<text x="1179.00" y="107.06" font-size="23.52" textLength="40.70" lengthAdjust="spacingAndGlyphs" fill="#000">ACC</text>
<polygon points="1185.5,112.0 1185.5,137.2 1181.5,137.2 1187.3,147.2 1193.1,137.2 1189.1,137.2 1189.1,112.0" fill="#000"/>
<polygon points="1220.8,147.2 1220.8,122.0 1224.8,122.0 1218.9,112.0 1213.1,122.0 1217.1,122.0 1217.1,147.2" fill="#e31f26"/>
<text x="1189.10" y="174.37" font-size="22.68" textLength="27.67" lengthAdjust="spacingAndGlyphs" fill="#000">OF</text>
<line x1="1264.00" y1="100.30" x2="1264.00" y2="375.30" stroke="#262626" stroke-width="1.6"/>
<line x1="1260.50" y1="100.30" x2="1264.00" y2="100.30" stroke="#262626" stroke-width="1.6"/>
<line x1="1260.50" y1="375.30" x2="1350.80" y2="375.30" stroke="#262626" stroke-width="1.6"/>
<line x1="1264.00" y1="375.30" x2="1264.00" y2="378.80" stroke="#262626" stroke-width="1.6"/>
<line x1="1292.90" y1="375.30" x2="1292.90" y2="378.80" stroke="#262626" stroke-width="1.6"/>
<line x1="1321.90" y1="375.30" x2="1321.90" y2="378.80" stroke="#262626" stroke-width="1.6"/>
<line x1="1350.80" y1="375.30" x2="1350.80" y2="378.80" stroke="#262626" stroke-width="1.6"/>
<text x="1297.00" y="107.06" font-size="23.52" textLength="40.19" lengthAdjust="spacingAndGlyphs" fill="#000">ACC</text>
<polygon points="1300.8,112.0 1300.8,137.2 1296.8,137.2 1302.6,147.2 1308.4,137.2 1304.4,137.2 1304.4,112.0" fill="#000"/>
<polygon points="1335.3,147.2 1335.3,122.0 1339.3,122.0 1333.5,112.0 1327.7,122.0 1331.7,122.0 1331.7,147.2" fill="#e31f26"/>
<text x="1300.05" y="174.37" font-size="22.68" textLength="31.53" lengthAdjust="spacingAndGlyphs" fill="#000">SM</text>
<line x1="1377.00" y1="100.30" x2="1377.00" y2="375.30" stroke="#262626" stroke-width="1.6"/>
<line x1="1373.50" y1="100.30" x2="1377.00" y2="100.30" stroke="#262626" stroke-width="1.6"/>
<line x1="1373.50" y1="375.30" x2="1463.80" y2="375.30" stroke="#262626" stroke-width="1.6"/>
<line x1="1377.00" y1="375.30" x2="1377.00" y2="378.80" stroke="#262626" stroke-width="1.6"/>
<line x1="1405.90" y1="375.30" x2="1405.90" y2="378.80" stroke="#262626" stroke-width="1.6"/>
<line x1="1434.90" y1="375.30" x2="1434.90" y2="378.80" stroke="#262626" stroke-width="1.6"/>
<line x1="1463.80" y1="375.30" x2="1463.80" y2="378.80" stroke="#262626" stroke-width="1.6"/>
<text x="1409.50" y="107.06" font-size="23.52" textLength="40.50" lengthAdjust="spacingAndGlyphs" fill="#000">ACC</text>
<polygon points="1414.0,112.0 1414.0,137.2 1410.0,137.2 1415.8,147.2 1421.6,137.2 1417.6,137.2 1417.6,112.0" fill="#000"/>
<polygon points="1449.2,147.2 1449.2,122.0 1453.2,122.0 1447.4,112.0 1441.6,122.0 1445.6,122.0 1445.6,147.2" fill="#e31f26"/>
<text x="1416.14" y="174.60" font-size="23.33" textLength="23.80" lengthAdjust="spacingAndGlyphs" fill="#000">PL</text>
<line x1="1490.50" y1="100.30" x2="1490.50" y2="375.30" stroke="#262626" stroke-width="1.6"/>
<line x1="1487.00" y1="100.30" x2="1490.50" y2="100.30" stroke="#262626" stroke-width="1.6"/>
<line x1="1487.00" y1="375.30" x2="1577.30" y2="375.30" stroke="#262626" stroke-width="1.6"/>
<line x1="1490.50" y1="375.30" x2="1490.50" y2="378.80" stroke="#262626" stroke-width="1.6"/>
<line x1="1519.40" y1="375.30" x2="1519.40" y2="378.80" stroke="#262626" stroke-width="1.6"/>
<line x1="1548.40" y1="375.30" x2="1548.40" y2="378.80" stroke="#262626" stroke-width="1.6"/>
<line x1="1577.30" y1="375.30" x2="1577.30" y2="378.80" stroke="#262626" stroke-width="1.6"/>
<text x="1520.70" y="107.06" font-size="23.52" textLength="41.01" lengthAdjust="spacingAndGlyphs" fill="#000">ACC</text>
<polygon points="1526.4,112.0 1526.4,137.2 1522.4,137.2 1528.2,147.2 1534.0,137.2 1530.0,137.2 1530.0,112.0" fill="#000"/>
<polygon points="1560.1,147.2 1560.1,122.0 1564.1,122.0 1558.3,112.0 1552.5,122.0 1556.5,122.0 1556.5,147.2" fill="#e31f26"/>
<text x="1528.21" y="174.60" font-size="23.33" textLength="22.92" lengthAdjust="spacingAndGlyphs" fill="#000">TL</text>
<text x="1033.73" y="397.89" font-size="20.99" textLength="12.05" lengthAdjust="spacingAndGlyphs" fill="#404040">0</text>
<text x="1109.64" y="397.89" font-size="20.99" textLength="23.97" lengthAdjust="spacingAndGlyphs" fill="#404040">30</text>
<text x="1143.46" y="397.89" font-size="20.99" textLength="10.31" lengthAdjust="spacingAndGlyphs" fill="#404040">0</text>
<text x="1221.23" y="397.89" font-size="20.99" textLength="24.07" lengthAdjust="spacingAndGlyphs" fill="#404040">30</text>
<text x="1256.46" y="397.89" font-size="20.99" textLength="11.70" lengthAdjust="spacingAndGlyphs" fill="#404040">0</text>
<text x="1337.34" y="397.89" font-size="20.99" textLength="23.97" lengthAdjust="spacingAndGlyphs" fill="#404040">30</text>
<text x="1370.92" y="397.89" font-size="20.99" textLength="12.17" lengthAdjust="spacingAndGlyphs" fill="#404040">0</text>
<text x="1451.96" y="397.89" font-size="20.99" textLength="23.32" lengthAdjust="spacingAndGlyphs" fill="#404040">30</text>
<text x="1484.62" y="397.89" font-size="20.99" textLength="12.17" lengthAdjust="spacingAndGlyphs" fill="#404040">0</text>
<text x="1563.48" y="397.89" font-size="20.99" textLength="25.58" lengthAdjust="spacingAndGlyphs" fill="#404040">30</text>
<text x="996.99" y="107.79" font-size="20.56" textLength="28.23" lengthAdjust="spacingAndGlyphs" fill="#404040">0.5</text>
<text x="1016.78" y="384.30" font-size="20.42" textLength="12.86" lengthAdjust="spacingAndGlyphs" fill="#404040">0</text>
<text x="1272.93" y="428.12" font-size="20.86" textLength="88.38" lengthAdjust="spacingAndGlyphs" fill="#404040">Freq (Hz)</text>
<text x="0" y="0" transform="translate(1005.68,285.71) rotate(-90)" font-size="32.39" textLength="53.92" lengthAdjust="spacingAndGlyphs" fill="#000">CGC</text>
<polyline points="1037.0,329.5 1040.5,333.0 1045.1,347.0 1052.0,359.8 1057.9,363.3 1063.7,362.0 1070.7,351.6 1076.5,347.0 1082.3,354.0 1089.3,358.6 1096.3,354.0 1103.3,358.6 1110.2,358.6 1119.5,356.3 1123.5,357.0" fill="none" stroke="#000" stroke-width="1.4" stroke-linejoin="round" stroke-linecap="round" stroke-dasharray="6,3,1.5,3"/>
<polyline points="1037.0,344.7 1042.8,349.3 1049.8,358.6 1056.7,362.0 1063.7,358.6 1070.7,350.5 1075.3,348.0 1082.3,356.3 1087.0,361.0 1094.0,349.3 1099.8,350.5 1105.6,361.0 1111.4,363.3 1117.2,357.4 1123.5,355.0" fill="none" stroke="#e31f26" stroke-width="1.4" stroke-linejoin="round" stroke-linecap="round" stroke-dasharray="7,4"/>
<path d="M1037.0,136.6 C1038.2,136.4 1042.0,136.3 1044.0,135.5 C1046.0,134.7 1047.7,132.8 1049.0,132.0 C1050.3,131.2 1050.8,130.5 1051.8,130.7 C1052.8,130.9 1054.1,131.6 1055.0,133.0 C1055.9,134.4 1056.7,135.6 1057.4,139.0 C1058.2,142.4 1058.6,146.0 1059.5,153.7 C1060.4,161.4 1061.7,172.8 1062.7,185.0 C1063.8,197.2 1064.9,215.3 1065.8,227.0 C1066.7,238.7 1067.1,243.2 1067.9,255.0 C1068.7,266.8 1069.9,285.8 1070.7,298.0 C1071.5,310.2 1072.2,319.5 1073.0,328.4 C1073.8,337.3 1074.5,345.2 1075.3,351.6 C1076.1,358.0 1076.9,363.4 1077.7,366.7 C1078.5,370.0 1079.0,372.3 1080.0,371.4 C1081.0,370.4 1082.2,365.1 1083.5,361.0 C1084.8,356.9 1086.5,348.6 1088.1,347.0 C1089.6,345.4 1091.2,348.5 1092.8,351.6 C1094.3,354.7 1095.9,362.1 1097.4,365.6 C1098.9,369.1 1100.2,372.4 1102.0,372.6 C1103.8,372.8 1106.0,368.6 1107.9,366.7 C1109.9,364.8 1112.0,361.8 1113.7,361.0 C1115.5,360.2 1116.8,360.5 1118.4,362.0 C1120.0,363.5 1122.7,368.8 1123.5,370.2" fill="none" stroke="#000" stroke-width="3.2" stroke-linejoin="round" stroke-linecap="round"/>
<path d="M1037.0,277.2 C1038.0,277.2 1041.1,278.0 1042.8,277.2 C1044.5,276.4 1046.0,274.1 1047.4,272.6 C1048.8,271.1 1049.8,268.2 1051.0,268.4 C1052.2,268.6 1053.2,271.6 1054.4,273.7 C1055.6,275.8 1056.9,276.6 1057.9,280.7 C1058.9,284.8 1059.2,292.0 1060.2,298.0 C1061.2,304.0 1062.3,310.9 1063.7,316.7 C1065.1,322.5 1066.9,327.9 1068.4,333.0 C1070.0,338.1 1071.7,341.9 1073.0,347.0 C1074.3,352.1 1075.3,359.2 1076.5,363.3 C1077.7,367.4 1078.6,370.4 1080.0,371.4 C1081.4,372.3 1083.0,370.2 1084.7,369.0 C1086.5,367.8 1089.0,365.3 1090.5,364.4 C1092.0,363.4 1092.8,362.5 1094.0,363.3 C1095.2,364.1 1096.1,367.4 1097.4,369.0 C1098.7,370.6 1099.9,371.8 1102.0,372.6 C1104.1,373.4 1106.6,373.3 1110.2,373.7 C1113.8,374.1 1121.3,374.8 1123.5,375.0" fill="none" stroke="#e31f26" stroke-width="3.2" stroke-linejoin="round" stroke-linecap="round"/>
<polyline points="1150.4,327.4 1156.7,333.0 1162.3,344.2 1169.8,355.3 1177.2,362.8 1184.7,360.9 1192.1,359.1 1203.3,366.5 1214.4,370.2 1225.6,368.4 1237.3,366.5" fill="none" stroke="#000" stroke-width="1.4" stroke-linejoin="round" stroke-linecap="round" stroke-dasharray="6,3,1.5,3"/>
<polyline points="1150.4,363.5 1158.6,364.7 1169.8,365.8 1181.0,362.8 1188.4,357.2 1195.8,362.8 1207.0,368.4 1225.0,368.4 1237.3,368.4" fill="none" stroke="#e31f26" stroke-width="1.4" stroke-linejoin="round" stroke-linecap="round" stroke-dasharray="7,4"/>
<path d="M1162.3,100.5 C1162.9,102.0 1164.8,103.9 1166.0,109.8 C1167.2,115.7 1168.5,123.4 1169.8,135.8 C1171.0,148.2 1172.3,168.7 1173.5,184.2 C1174.7,199.7 1176.0,213.3 1177.2,228.8 C1178.4,244.3 1179.8,261.7 1180.9,277.2 C1182.0,292.7 1183.0,308.9 1183.9,321.9 C1184.8,334.9 1185.6,347.2 1186.5,355.3 C1187.4,363.4 1188.2,368.0 1189.1,370.2 C1190.0,372.4 1191.0,372.1 1192.1,368.4 C1193.2,364.7 1194.6,355.6 1195.8,347.9 C1197.0,340.1 1198.2,328.0 1199.5,321.9 C1200.8,315.8 1202.0,310.8 1203.3,311.4 C1204.5,312.0 1205.8,318.3 1207.0,325.6 C1208.2,332.9 1209.5,348.0 1210.7,355.3 C1211.9,362.6 1212.9,367.6 1214.4,369.5 C1216.0,371.4 1218.1,368.9 1220.0,366.5 C1221.9,364.1 1224.0,357.9 1225.6,355.3 C1227.1,352.7 1228.1,350.6 1229.3,350.9 C1230.5,351.2 1231.7,354.6 1233.0,357.2 C1234.3,359.8 1236.6,364.9 1237.3,366.5" fill="none" stroke="#000" stroke-width="3.2" stroke-linejoin="round" stroke-linecap="round"/>
<path d="M1150.4,295.0 C1151.8,295.0 1156.3,294.6 1158.6,295.0 C1160.9,295.4 1162.3,296.3 1164.2,297.7 C1166.1,299.1 1167.6,300.5 1169.8,303.3 C1172.0,306.1 1174.7,310.1 1177.2,314.4 C1179.7,318.7 1182.2,325.7 1184.7,329.3 C1187.2,332.9 1189.9,333.8 1192.1,336.0 C1194.3,338.2 1196.2,337.5 1197.7,342.3 C1199.2,347.1 1200.2,360.2 1201.4,364.7 C1202.6,369.2 1203.9,369.5 1205.1,369.5 C1206.3,369.5 1207.2,368.3 1208.8,364.7 C1210.3,361.1 1212.7,352.1 1214.4,347.9 C1216.1,343.7 1217.4,339.7 1218.9,339.7 C1220.5,339.7 1222.0,344.7 1223.7,347.9 C1225.4,351.1 1227.0,357.2 1229.3,359.1 C1231.6,361.0 1236.0,359.1 1237.3,359.1" fill="none" stroke="#e31f26" stroke-width="3.2" stroke-linejoin="round" stroke-linecap="round"/>
<polyline points="1263.9,342.3 1270.2,340.5 1277.7,342.3 1285.1,349.8 1292.6,355.3 1300.0,351.6 1307.4,347.9 1314.9,355.3 1324.2,342.3 1329.8,362.8 1341.0,359.1 1350.5,355.3" fill="none" stroke="#000" stroke-width="1.4" stroke-linejoin="round" stroke-linecap="round" stroke-dasharray="6,3,1.5,3"/>
<polyline points="1263.9,340.5 1270.2,347.9 1277.7,357.2 1288.8,362.8 1300.0,359.1 1311.2,364.7 1326.1,362.8 1337.2,366.5 1350.5,368.0" fill="none" stroke="#e31f26" stroke-width="1.4" stroke-linejoin="round" stroke-linecap="round" stroke-dasharray="7,4"/>
<path d="M1263.9,353.5 C1265.0,353.8 1268.2,354.1 1270.2,355.3 C1272.2,356.5 1273.9,359.0 1275.8,360.9 C1277.7,362.8 1279.5,365.9 1281.4,366.5 C1283.3,367.1 1285.1,365.9 1287.0,364.7 C1288.9,363.5 1290.8,359.4 1292.6,359.1 C1294.4,358.8 1296.2,361.2 1298.1,362.8 C1299.9,364.4 1301.8,366.5 1303.7,368.4 C1305.6,370.3 1307.4,374.3 1309.3,374.0 C1311.2,373.7 1313.0,369.6 1314.9,366.5 C1316.8,363.4 1318.6,355.9 1320.5,355.3 C1322.4,354.7 1324.2,359.7 1326.1,362.8 C1327.9,365.9 1329.1,372.8 1331.6,374.0 C1334.1,375.2 1337.8,371.1 1341.0,370.2 C1344.2,369.3 1348.9,368.7 1350.5,368.4" fill="none" stroke="#000" stroke-width="3.2" stroke-linejoin="round" stroke-linecap="round"/>
<path d="M1263.9,292.1 C1264.7,291.5 1266.7,290.6 1268.4,288.4 C1270.1,286.2 1272.2,281.7 1274.0,279.1 C1275.8,276.5 1277.7,273.0 1279.5,272.7 C1281.3,272.4 1283.5,275.5 1285.1,277.2 C1286.6,278.9 1287.5,281.2 1288.8,282.8 C1290.0,284.4 1291.3,281.9 1292.6,286.5 C1293.8,291.1 1295.1,301.7 1296.3,310.7 C1297.5,319.7 1298.8,331.8 1300.0,340.5 C1301.2,349.2 1302.5,357.5 1303.7,362.8 C1304.9,368.1 1305.9,371.2 1307.4,372.1 C1309.0,373.0 1311.1,369.4 1313.0,368.4 C1314.9,367.3 1316.7,365.2 1318.6,365.8 C1320.5,366.4 1322.3,371.7 1324.2,372.1 C1326.1,372.5 1328.0,369.6 1329.8,368.4 C1331.6,367.2 1333.1,365.0 1335.3,364.7 C1337.5,364.4 1340.3,365.6 1342.8,366.5 C1345.3,367.4 1349.2,369.6 1350.5,370.2" fill="none" stroke="#e31f26" stroke-width="3.2" stroke-linejoin="round" stroke-linecap="round"/>
<polyline points="1376.7,353.5 1386.0,357.2 1397.2,360.9 1408.4,359.1 1419.5,362.8 1430.7,364.7 1441.9,362.8 1453.0,360.9 1463.6,360.9" fill="none" stroke="#000" stroke-width="1.4" stroke-linejoin="round" stroke-linecap="round" stroke-dasharray="6,3,1.5,3"/>
<polyline points="1376.7,360.9 1389.8,362.8 1404.6,364.7 1419.5,366.5 1434.4,367.3 1449.3,365.8 1463.6,366.5" fill="none" stroke="#e31f26" stroke-width="1.4" stroke-linejoin="round" stroke-linecap="round" stroke-dasharray="7,4"/>
<path d="M1376.7,374.0 C1378.9,373.7 1386.1,373.7 1389.8,372.1 C1393.5,370.6 1396.3,366.9 1399.1,364.7 C1401.9,362.5 1404.0,360.7 1406.5,359.1 C1409.0,357.5 1411.8,354.1 1414.0,355.3 C1416.2,356.5 1417.7,363.4 1419.5,366.5 C1421.3,369.6 1422.6,372.8 1425.1,374.0 C1427.6,375.2 1431.6,374.3 1434.4,374.0 C1437.2,373.7 1439.4,373.0 1441.9,372.1 C1444.4,371.2 1446.8,368.7 1449.3,368.4 C1451.8,368.1 1454.3,369.3 1456.7,370.2 C1459.1,371.1 1462.4,373.4 1463.6,374.0" fill="none" stroke="#000" stroke-width="3.2" stroke-linejoin="round" stroke-linecap="round"/>
<path d="M1376.7,375.5 C1378.9,375.4 1385.8,375.3 1389.8,374.7 C1393.8,374.1 1397.6,373.5 1401.0,372.1 C1404.4,370.7 1407.7,368.1 1410.2,366.5 C1412.7,364.9 1413.9,363.9 1415.8,362.8 C1417.7,361.7 1419.5,360.4 1421.4,359.8 C1423.3,359.2 1424.8,359.4 1427.0,359.1 C1429.2,358.9 1432.2,358.0 1434.4,358.3 C1436.6,358.6 1438.1,360.2 1440.0,361.0 C1441.9,361.8 1443.7,363.0 1445.6,362.8 C1447.5,362.6 1449.3,359.2 1451.2,359.8 C1453.1,360.4 1454.6,365.1 1456.7,366.5 C1458.8,367.9 1462.4,367.8 1463.6,368.0" fill="none" stroke="#e31f26" stroke-width="3.2" stroke-linejoin="round" stroke-linecap="round"/>
<polyline points="1490.2,355.3 1497.7,357.2 1508.8,359.1 1520.0,355.3 1525.6,349.8 1531.2,357.2 1538.6,362.8 1546.0,362.8 1553.5,359.8 1562.0,364.0 1577.0,361.0" fill="none" stroke="#000" stroke-width="1.4" stroke-linejoin="round" stroke-linecap="round" stroke-dasharray="6,3,1.5,3"/>
<polyline points="1490.2,346.0 1495.8,351.6 1501.4,359.1 1508.8,362.8 1520.0,364.7 1531.2,366.5 1546.0,367.3 1561.0,364.7 1577.0,365.0" fill="none" stroke="#e31f26" stroke-width="1.4" stroke-linejoin="round" stroke-linecap="round" stroke-dasharray="7,4"/>
<path d="M1490.2,320.0 C1492.4,320.2 1500.2,319.6 1503.3,321.1 C1506.4,322.7 1506.9,326.1 1508.8,329.3 C1510.7,332.5 1512.5,336.8 1514.4,340.5 C1516.3,344.2 1518.1,348.2 1520.0,351.6 C1521.9,355.0 1523.7,358.1 1525.6,360.9 C1527.5,363.7 1529.0,367.8 1531.2,368.4 C1533.4,369.0 1536.1,365.6 1538.6,364.7 C1541.1,363.8 1543.5,362.2 1546.0,362.8 C1548.5,363.4 1550.7,367.2 1553.5,368.4 C1556.3,369.6 1560.0,370.2 1562.8,370.2 C1565.6,370.2 1567.8,368.7 1570.2,368.4 C1572.6,368.1 1575.9,368.4 1577.0,368.4" fill="none" stroke="#000" stroke-width="3.2" stroke-linejoin="round" stroke-linecap="round"/>
<path d="M1490.2,370.2 C1491.5,370.3 1495.2,371.6 1497.7,371.0 C1500.2,370.4 1502.6,368.2 1505.1,366.5 C1507.6,364.8 1510.4,362.1 1512.6,360.9 C1514.8,359.7 1516.2,358.5 1518.1,359.1 C1519.9,359.7 1521.8,363.1 1523.7,364.7 C1525.6,366.2 1527.4,368.1 1529.3,368.4 C1531.2,368.7 1532.7,365.6 1534.9,366.5 C1537.1,367.4 1539.8,373.7 1542.3,374.0 C1544.8,374.3 1547.0,368.7 1549.8,368.4 C1552.6,368.1 1556.0,371.2 1559.1,372.1 C1562.2,373.0 1565.4,374.0 1568.4,374.0 C1571.4,374.0 1575.6,372.3 1577.0,372.0" fill="none" stroke="#e31f26" stroke-width="3.2" stroke-linejoin="round" stroke-linecap="round"/>
<defs><path id="bc" d="M126.2,603.0 C130.1,600.0 131.4,597.0 134.0,593.0 C136.6,589.0 139.7,582.7 141.9,579.0 C144.1,575.3 144.5,572.5 147.1,570.6 C149.7,568.7 154.1,568.5 157.6,567.4 C161.1,566.3 165.7,565.9 168.0,564.3 C170.3,562.7 168.6,560.3 171.2,558.0 C173.8,555.7 179.0,552.6 183.7,550.7 C188.4,548.8 195.2,547.0 199.4,546.5 C203.6,546.0 206.6,546.5 208.8,547.6 C211.0,548.7 210.9,552.4 212.5,553.0 C214.1,553.6 215.2,552.2 218.3,551.5 C221.4,550.8 226.5,548.2 230.8,548.6 C235.2,549.0 240.0,552.1 244.4,553.8 C248.8,555.5 252.3,557.6 257.0,559.0 C261.7,560.4 267.5,561.1 272.7,562.2 C277.9,563.3 283.8,564.5 288.4,565.4 C292.9,566.3 295.8,566.3 300.0,567.4 C304.2,568.5 308.0,569.4 313.8,571.9 C319.6,574.4 327.7,578.3 334.7,582.4 C341.7,586.5 348.7,590.5 355.7,596.3 C362.7,602.1 370.2,609.7 376.6,617.3 C383.0,624.9 389.4,633.0 394.0,641.7 C398.6,650.4 401.9,660.3 404.5,669.6 C407.1,678.9 408.9,688.2 409.8,697.5 C410.7,706.8 410.7,717.4 409.8,725.5 C408.9,733.6 407.1,740.0 404.5,746.4 C401.9,752.8 398.1,759.2 394.0,763.9 C389.9,768.5 385.3,771.7 380.1,774.3 C374.9,776.9 369.0,778.9 362.6,779.6 C356.2,780.3 348.7,779.4 341.7,778.5 C334.7,777.6 327.2,775.6 320.8,774.3 C314.4,773.0 307.4,769.6 303.3,770.8 C299.2,772.0 298.1,776.6 296.3,781.3 C294.6,786.0 295.1,794.1 292.8,798.8 C290.5,803.4 287.0,806.9 282.4,809.2 C277.8,811.5 270.7,812.0 264.9,812.7 C259.1,813.4 253.7,814.0 247.5,813.4 C241.3,812.8 234.3,811.6 227.5,809.2 C220.7,806.8 213.6,802.9 206.6,798.8 C199.6,794.7 192.7,788.9 185.7,784.8 C178.7,780.7 171.7,777.2 164.7,774.3 C157.7,771.4 150.8,770.2 143.8,767.3 C136.8,764.4 129.8,759.8 122.8,756.9 C115.8,754.0 108.0,752.1 101.9,749.9 C95.9,747.7 90.4,746.4 86.5,743.5 C82.6,740.6 80.1,737.7 78.5,732.4 C76.9,727.1 77.0,719.0 77.0,711.5 C77.0,704.0 77.6,695.2 78.7,687.1 C79.8,679.0 81.6,670.2 83.5,662.6 C85.4,655.0 87.3,648.1 90.0,641.7 C92.7,635.3 96.1,629.3 99.5,624.2 C102.9,619.1 106.0,614.8 110.4,611.3 C114.9,607.8 122.3,606.0 126.2,603.0Z"/><path id="bf" d="M1172.0,616.8 C1176.4,614.7 1184.8,617.0 1188.6,614.2 C1192.4,611.4 1192.4,605.2 1195.0,600.0 C1197.6,594.8 1200.4,587.0 1204.0,583.0 C1207.6,579.0 1212.1,578.1 1216.8,575.8 C1221.5,573.5 1227.8,571.9 1232.1,569.4 C1236.3,566.9 1237.4,563.0 1242.3,560.5 C1247.2,558.0 1256.4,555.4 1261.5,554.7 C1266.6,554.1 1270.5,555.4 1273.0,556.6 C1275.5,557.8 1274.8,561.4 1276.5,562.0 C1278.2,562.6 1280.0,561.4 1283.3,560.5 C1286.6,559.6 1291.2,556.3 1296.1,556.6 C1301.0,556.9 1306.7,560.6 1312.7,562.4 C1318.7,564.2 1325.5,565.9 1331.9,567.5 C1338.3,569.1 1344.7,570.2 1351.1,572.0 C1357.5,573.8 1363.8,576.4 1370.3,578.4 C1376.8,580.4 1383.0,581.4 1390.0,584.0 C1397.0,586.6 1403.7,589.7 1412.0,594.0 C1420.3,598.3 1432.7,603.7 1439.6,609.8 C1446.5,615.9 1449.5,623.8 1453.6,630.8 C1457.7,637.8 1460.8,643.6 1464.0,651.7 C1467.2,659.8 1470.8,670.3 1472.8,679.6 C1474.8,688.9 1476.0,698.2 1476.3,707.5 C1476.6,716.8 1476.0,727.4 1474.5,735.5 C1473.0,743.6 1470.4,750.0 1467.5,756.4 C1464.6,762.8 1461.8,769.2 1457.1,773.9 C1452.4,778.5 1446.0,781.7 1439.6,784.3 C1433.2,786.9 1424.5,787.9 1418.7,789.6 C1412.9,791.4 1408.8,790.4 1404.7,794.8 C1400.6,799.1 1398.3,810.5 1394.2,815.7 C1390.1,820.9 1387.3,823.6 1380.3,826.2 C1373.3,828.8 1361.1,830.8 1352.4,831.4 C1343.7,832.0 1335.0,830.9 1327.9,829.7 C1320.8,828.5 1315.6,825.8 1310.0,824.0 C1304.4,822.2 1300.6,821.7 1294.5,819.2 C1288.4,816.7 1280.6,812.9 1273.6,808.8 C1266.6,804.7 1259.6,799.5 1252.6,794.8 C1245.6,790.1 1238.7,784.9 1231.7,780.8 C1224.7,776.7 1217.8,773.3 1210.8,770.4 C1203.8,767.5 1196.8,765.4 1189.8,763.4 C1182.8,761.4 1175.9,760.0 1168.9,758.2 C1161.9,756.5 1153.1,755.5 1147.9,752.9 C1142.7,750.3 1139.7,747.6 1137.5,742.4 C1135.3,737.2 1135.0,729.0 1134.7,721.5 C1134.4,714.0 1135.0,704.7 1135.7,697.1 C1136.5,689.5 1137.5,683.1 1139.2,676.1 C1141.0,669.1 1143.6,661.6 1146.2,655.2 C1148.8,648.8 1152.3,642.4 1154.9,637.7 C1157.5,633.0 1159.2,630.5 1162.0,627.0 C1164.8,623.5 1167.6,618.9 1172.0,616.8Z"/><filter id="bl" x="-5%" y="-5%" width="110%" height="110%"><feGaussianBlur stdDeviation="1.6"/></filter></defs>
<defs><filter id="bl1" x="-10%" y="-10%" width="120%" height="120%"><feGaussianBlur stdDeviation="0.6"/></filter><filter id="bl2" x="-10%" y="-10%" width="120%" height="120%"><feGaussianBlur stdDeviation="1.8"/></filter><filter id="bl0" x="-5%" y="-5%" width="110%" height="110%"><feGaussianBlur stdDeviation="0.9"/></filter><filter id="bl3" x="-30%" y="-30%" width="160%" height="160%"><feGaussianBlur stdDeviation="4"/></filter></defs>
<clipPath id="clipbc0"><use href="#bc" transform="translate(0,0)"/></clipPath>
<g transform="translate(0,0)">
<use href="#bc" fill="#e9e9e9" filter="url(#bl0)"/>
</g>
<g clip-path="url(#clipbc0)"><g transform="translate(0,0)" fill="none" stroke-linecap="round" stroke-linejoin="round"><g filter="url(#bl2)" stroke="#d6d6d6" stroke-width="6"><path d="M108.4,610.4 C111.2,610.0 119.4,608.4 125.0,608.0 C130.6,607.6 136.5,606.9 141.9,608.3 C147.3,609.7 153.2,614.3 157.6,616.6 C161.9,618.9 166.3,621.1 168.0,622.0"/><path d="M246.5,597.8 C247.4,596.3 249.4,591.6 252.0,589.0 C254.6,586.4 258.4,583.4 262.2,582.1 C266.0,580.8 270.6,580.1 275.0,581.0 C279.4,581.9 284.2,585.2 288.4,587.3 C292.6,589.4 294.7,591.3 300.0,593.6 C305.3,595.9 313.1,598.3 320.0,601.0 C326.9,603.7 338.0,608.5 341.6,610.0"/><path d="M324.0,760.0 C327.5,760.7 337.3,763.3 345.0,764.0 C352.7,764.7 361.2,765.2 370.0,764.0 C378.8,762.8 393.3,758.2 398.0,757.0"/><path d="M84.0,690.0 C85.3,692.2 89.3,698.7 92.0,703.0 C94.7,707.3 98.7,713.8 100.0,716.0"/><path d="M158.0,604.0 C160.0,604.3 168.0,605.7 170.0,606.0"/><path d="M200.0,700.0 C205.0,700.8 220.0,703.0 230.0,705.0 C240.0,707.0 255.0,710.8 260.0,712.0"/></g><g filter="url(#bl3)" stroke="#dcdcdc" stroke-width="14"><path d="M105.0,738.0 C110.8,740.3 126.7,746.7 140.0,752.0 C153.3,757.3 170.0,763.2 185.0,770.0 C200.0,776.8 217.2,787.5 230.0,793.0 C242.8,798.5 252.3,802.7 262.0,803.0 C271.7,803.3 283.7,796.3 288.0,795.0"/><path d="M92.0,650.0 C91.3,656.7 88.3,678.0 88.0,690.0 C87.7,702.0 87.7,714.0 90.0,722.0 C92.3,730.0 100.0,735.3 102.0,738.0"/><path d="M300.0,765.0 C306.7,765.8 327.5,769.5 340.0,770.0 C352.5,770.5 369.2,768.3 375.0,768.0"/></g><g filter="url(#bl3)" stroke="none" fill="#d9d9d9"><ellipse cx="96" cy="700" rx="9" ry="17" transform="rotate(20,96,700)"/><ellipse cx="118" cy="640" rx="10" ry="22" transform="rotate(45,118,640)"/><ellipse cx="165" cy="609" rx="8" ry="8" transform="rotate(0,165,609)"/><ellipse cx="105" cy="735" rx="14" ry="7" transform="rotate(10,105,735)"/><ellipse cx="230" cy="700" rx="25" ry="8" transform="rotate(5,230,700)"/></g><g filter="url(#bl1)" stroke="#d0d0d0" stroke-width="2"><path d="M173.3,574.8 C174.4,577.3 177.4,584.4 180.0,590.0 C182.6,595.6 187.5,605.2 189.0,608.3"/><path d="M199.4,576.9 C200.0,579.1 202.1,586.5 203.0,590.0 C203.9,593.5 204.2,594.8 204.7,597.8 C205.1,600.8 205.5,606.5 205.7,608.3"/><path d="M228.7,574.8 C229.8,577.3 232.9,584.4 235.0,590.0 C237.1,595.6 240.2,605.2 241.3,608.3"/><path d="M212.0,556.0 C212.3,558.3 213.2,564.3 214.0,570.0 C214.8,575.7 216.5,586.7 217.0,590.0"/><path d="M195.0,683.0 C196.7,678.3 201.5,662.5 205.0,655.0 C208.5,647.5 211.0,643.5 216.0,638.0 C221.0,632.5 229.5,625.8 235.0,622.0 C240.5,618.2 244.0,616.7 249.0,615.0 C254.0,613.3 256.8,613.2 265.0,612.0 C273.2,610.8 288.8,607.7 298.0,608.0 C307.2,608.3 313.5,612.0 320.0,614.0 C326.5,616.0 331.0,616.0 337.0,620.0 C343.0,624.0 352.8,635.0 356.0,638.0"/><path d="M207.0,693.0 C210.8,689.5 222.5,676.8 230.0,672.0 C237.5,667.2 240.7,666.0 252.0,664.0 C263.3,662.0 285.0,659.0 298.0,660.0 C311.0,661.0 324.7,668.3 330.0,670.0"/><path d="M355.0,679.0 C356.0,683.5 360.3,698.3 361.0,706.0 C361.7,713.7 361.8,719.0 359.0,725.0 C356.2,731.0 346.5,739.2 344.0,742.0"/><path d="M88.0,706.0 C89.3,703.3 92.8,696.2 96.0,690.0 C99.2,683.8 105.2,672.5 107.0,669.0"/><path d="M87.0,662.0 C89.2,659.7 94.2,652.0 100.0,648.0 C105.8,644.0 118.3,639.7 122.0,638.0"/><path d="M96.0,645.0 C98.3,642.5 105.7,634.5 110.0,630.0 C114.3,625.5 120.0,620.0 122.0,618.0"/><path d="M126.0,734.0 C130.0,732.8 140.7,729.2 150.0,727.0 C159.3,724.8 170.3,720.8 182.0,721.0 C193.7,721.2 207.7,725.2 220.0,728.0 C232.3,730.8 250.0,736.3 256.0,738.0"/><path d="M135.0,748.0 C140.0,747.0 154.2,743.7 165.0,742.0 C175.8,740.3 189.2,736.7 200.0,738.0 C210.8,739.3 220.7,745.7 230.0,750.0 C239.3,754.3 251.7,761.7 256.0,764.0"/><path d="M200.0,764.0 C205.0,766.2 220.7,772.7 230.0,777.0 C239.3,781.3 246.8,786.2 256.0,790.0 C265.2,793.8 280.2,798.3 285.0,800.0"/><path d="M175.0,694.0 C179.2,693.0 191.3,690.3 200.0,688.0 C208.7,685.7 222.5,681.3 227.0,680.0"/><path d="M259.0,734.0 C265.2,736.5 286.8,745.2 296.0,749.0 C305.2,752.8 311.0,755.7 314.0,757.0"/><path d="M292.0,706.0 C292.8,710.0 295.5,722.2 297.0,730.0 C298.5,737.8 300.3,749.2 301.0,753.0"/><path d="M140.0,660.0 C141.7,665.0 146.7,680.8 150.0,690.0 C153.3,699.2 158.3,710.8 160.0,715.0"/><path d="M115.0,700.0 C117.5,703.3 124.2,714.2 130.0,720.0 C135.8,725.8 146.7,732.5 150.0,735.0"/><path d="M250.0,645.0 C253.3,648.3 264.2,656.7 270.0,665.0 C275.8,673.3 282.5,690.0 285.0,695.0"/><path d="M152.0,580.0 C153.0,583.3 157.0,596.7 158.0,600.0"/><path d="M310.0,575.0 C313.3,576.7 323.3,580.8 330.0,585.0 C336.7,589.2 346.7,597.5 350.0,600.0"/><path d="M372.0,640.0 C374.2,645.0 381.7,660.0 385.0,670.0 C388.3,680.0 390.8,695.0 392.0,700.0"/></g><g filter="url(#bl2)" stroke="#f3f3f3" stroke-width="4"><path d="M215.0,662.0 C219.2,658.3 230.8,644.8 240.0,640.0 C249.2,635.2 260.0,634.3 270.0,633.0 C280.0,631.7 290.0,630.0 300.0,632.0 C310.0,634.0 325.0,642.8 330.0,645.0"/><path d="M250.0,606.0 C254.2,604.5 266.7,597.8 275.0,597.0 C283.3,596.2 291.7,597.8 300.0,601.0 C308.3,604.2 320.8,613.5 325.0,616.0"/><path d="M182.0,600.0 C182.7,596.7 185.3,583.3 186.0,580.0"/><path d="M150.0,736.0 C158.3,735.2 185.0,730.0 200.0,731.0 C215.0,732.0 233.3,740.2 240.0,742.0"/><path d="M330.0,700.0 C332.5,704.2 342.5,720.8 345.0,725.0"/><path d="M120.0,690.0 C122.5,686.7 132.5,673.3 135.0,670.0"/></g></g></g>
<clipPath id="clipbc425"><use href="#bc" transform="translate(425.3,0.8)"/></clipPath>
<g transform="translate(425.3,0.8)">
<use href="#bc" fill="#e9e9e9" filter="url(#bl0)"/>
</g>
<g clip-path="url(#clipbc425)"><g transform="translate(425.3,0.8)" fill="none" stroke-linecap="round" stroke-linejoin="round"><g filter="url(#bl2)" stroke="#d6d6d6" stroke-width="6"><path d="M108.4,610.4 C111.2,610.0 119.4,608.4 125.0,608.0 C130.6,607.6 136.5,606.9 141.9,608.3 C147.3,609.7 153.2,614.3 157.6,616.6 C161.9,618.9 166.3,621.1 168.0,622.0"/><path d="M246.5,597.8 C247.4,596.3 249.4,591.6 252.0,589.0 C254.6,586.4 258.4,583.4 262.2,582.1 C266.0,580.8 270.6,580.1 275.0,581.0 C279.4,581.9 284.2,585.2 288.4,587.3 C292.6,589.4 294.7,591.3 300.0,593.6 C305.3,595.9 313.1,598.3 320.0,601.0 C326.9,603.7 338.0,608.5 341.6,610.0"/><path d="M324.0,760.0 C327.5,760.7 337.3,763.3 345.0,764.0 C352.7,764.7 361.2,765.2 370.0,764.0 C378.8,762.8 393.3,758.2 398.0,757.0"/><path d="M84.0,690.0 C85.3,692.2 89.3,698.7 92.0,703.0 C94.7,707.3 98.7,713.8 100.0,716.0"/><path d="M158.0,604.0 C160.0,604.3 168.0,605.7 170.0,606.0"/><path d="M200.0,700.0 C205.0,700.8 220.0,703.0 230.0,705.0 C240.0,707.0 255.0,710.8 260.0,712.0"/></g><g filter="url(#bl3)" stroke="#dcdcdc" stroke-width="14"><path d="M105.0,738.0 C110.8,740.3 126.7,746.7 140.0,752.0 C153.3,757.3 170.0,763.2 185.0,770.0 C200.0,776.8 217.2,787.5 230.0,793.0 C242.8,798.5 252.3,802.7 262.0,803.0 C271.7,803.3 283.7,796.3 288.0,795.0"/><path d="M92.0,650.0 C91.3,656.7 88.3,678.0 88.0,690.0 C87.7,702.0 87.7,714.0 90.0,722.0 C92.3,730.0 100.0,735.3 102.0,738.0"/><path d="M300.0,765.0 C306.7,765.8 327.5,769.5 340.0,770.0 C352.5,770.5 369.2,768.3 375.0,768.0"/></g><g filter="url(#bl3)" stroke="none" fill="#d9d9d9"><ellipse cx="96" cy="700" rx="9" ry="17" transform="rotate(20,96,700)"/><ellipse cx="118" cy="640" rx="10" ry="22" transform="rotate(45,118,640)"/><ellipse cx="165" cy="609" rx="8" ry="8" transform="rotate(0,165,609)"/><ellipse cx="105" cy="735" rx="14" ry="7" transform="rotate(10,105,735)"/><ellipse cx="230" cy="700" rx="25" ry="8" transform="rotate(5,230,700)"/></g><g filter="url(#bl1)" stroke="#d0d0d0" stroke-width="2"><path d="M173.3,574.8 C174.4,577.3 177.4,584.4 180.0,590.0 C182.6,595.6 187.5,605.2 189.0,608.3"/><path d="M199.4,576.9 C200.0,579.1 202.1,586.5 203.0,590.0 C203.9,593.5 204.2,594.8 204.7,597.8 C205.1,600.8 205.5,606.5 205.7,608.3"/><path d="M228.7,574.8 C229.8,577.3 232.9,584.4 235.0,590.0 C237.1,595.6 240.2,605.2 241.3,608.3"/><path d="M212.0,556.0 C212.3,558.3 213.2,564.3 214.0,570.0 C214.8,575.7 216.5,586.7 217.0,590.0"/><path d="M195.0,683.0 C196.7,678.3 201.5,662.5 205.0,655.0 C208.5,647.5 211.0,643.5 216.0,638.0 C221.0,632.5 229.5,625.8 235.0,622.0 C240.5,618.2 244.0,616.7 249.0,615.0 C254.0,613.3 256.8,613.2 265.0,612.0 C273.2,610.8 288.8,607.7 298.0,608.0 C307.2,608.3 313.5,612.0 320.0,614.0 C326.5,616.0 331.0,616.0 337.0,620.0 C343.0,624.0 352.8,635.0 356.0,638.0"/><path d="M207.0,693.0 C210.8,689.5 222.5,676.8 230.0,672.0 C237.5,667.2 240.7,666.0 252.0,664.0 C263.3,662.0 285.0,659.0 298.0,660.0 C311.0,661.0 324.7,668.3 330.0,670.0"/><path d="M355.0,679.0 C356.0,683.5 360.3,698.3 361.0,706.0 C361.7,713.7 361.8,719.0 359.0,725.0 C356.2,731.0 346.5,739.2 344.0,742.0"/><path d="M88.0,706.0 C89.3,703.3 92.8,696.2 96.0,690.0 C99.2,683.8 105.2,672.5 107.0,669.0"/><path d="M87.0,662.0 C89.2,659.7 94.2,652.0 100.0,648.0 C105.8,644.0 118.3,639.7 122.0,638.0"/><path d="M96.0,645.0 C98.3,642.5 105.7,634.5 110.0,630.0 C114.3,625.5 120.0,620.0 122.0,618.0"/><path d="M126.0,734.0 C130.0,732.8 140.7,729.2 150.0,727.0 C159.3,724.8 170.3,720.8 182.0,721.0 C193.7,721.2 207.7,725.2 220.0,728.0 C232.3,730.8 250.0,736.3 256.0,738.0"/><path d="M135.0,748.0 C140.0,747.0 154.2,743.7 165.0,742.0 C175.8,740.3 189.2,736.7 200.0,738.0 C210.8,739.3 220.7,745.7 230.0,750.0 C239.3,754.3 251.7,761.7 256.0,764.0"/><path d="M200.0,764.0 C205.0,766.2 220.7,772.7 230.0,777.0 C239.3,781.3 246.8,786.2 256.0,790.0 C265.2,793.8 280.2,798.3 285.0,800.0"/><path d="M175.0,694.0 C179.2,693.0 191.3,690.3 200.0,688.0 C208.7,685.7 222.5,681.3 227.0,680.0"/><path d="M259.0,734.0 C265.2,736.5 286.8,745.2 296.0,749.0 C305.2,752.8 311.0,755.7 314.0,757.0"/><path d="M292.0,706.0 C292.8,710.0 295.5,722.2 297.0,730.0 C298.5,737.8 300.3,749.2 301.0,753.0"/><path d="M140.0,660.0 C141.7,665.0 146.7,680.8 150.0,690.0 C153.3,699.2 158.3,710.8 160.0,715.0"/><path d="M115.0,700.0 C117.5,703.3 124.2,714.2 130.0,720.0 C135.8,725.8 146.7,732.5 150.0,735.0"/><path d="M250.0,645.0 C253.3,648.3 264.2,656.7 270.0,665.0 C275.8,673.3 282.5,690.0 285.0,695.0"/><path d="M152.0,580.0 C153.0,583.3 157.0,596.7 158.0,600.0"/><path d="M310.0,575.0 C313.3,576.7 323.3,580.8 330.0,585.0 C336.7,589.2 346.7,597.5 350.0,600.0"/><path d="M372.0,640.0 C374.2,645.0 381.7,660.0 385.0,670.0 C388.3,680.0 390.8,695.0 392.0,700.0"/></g><g filter="url(#bl2)" stroke="#f3f3f3" stroke-width="4"><path d="M215.0,662.0 C219.2,658.3 230.8,644.8 240.0,640.0 C249.2,635.2 260.0,634.3 270.0,633.0 C280.0,631.7 290.0,630.0 300.0,632.0 C310.0,634.0 325.0,642.8 330.0,645.0"/><path d="M250.0,606.0 C254.2,604.5 266.7,597.8 275.0,597.0 C283.3,596.2 291.7,597.8 300.0,601.0 C308.3,604.2 320.8,613.5 325.0,616.0"/><path d="M182.0,600.0 C182.7,596.7 185.3,583.3 186.0,580.0"/><path d="M150.0,736.0 C158.3,735.2 185.0,730.0 200.0,731.0 C215.0,732.0 233.3,740.2 240.0,742.0"/><path d="M330.0,700.0 C332.5,704.2 342.5,720.8 345.0,725.0"/><path d="M120.0,690.0 C122.5,686.7 132.5,673.3 135.0,670.0"/></g></g></g>
<clipPath id="clipbf0"><use href="#bf" transform="translate(0,0)"/></clipPath>
<g transform="translate(0,0)">
<use href="#bf" fill="#e9e9e9" filter="url(#bl0)"/>
</g>
<g clip-path="url(#clipbf0)"><g transform="translate(0,0) translate(1134.7,554.7) scale(1.0173,1.0367) translate(-74,-546.5)" fill="none" stroke-linecap="round" stroke-linejoin="round"><g filter="url(#bl2)" stroke="#d6d6d6" stroke-width="6"><path d="M108.4,610.4 C111.2,610.0 119.4,608.4 125.0,608.0 C130.6,607.6 136.5,606.9 141.9,608.3 C147.3,609.7 153.2,614.3 157.6,616.6 C161.9,618.9 166.3,621.1 168.0,622.0"/><path d="M246.5,597.8 C247.4,596.3 249.4,591.6 252.0,589.0 C254.6,586.4 258.4,583.4 262.2,582.1 C266.0,580.8 270.6,580.1 275.0,581.0 C279.4,581.9 284.2,585.2 288.4,587.3 C292.6,589.4 294.7,591.3 300.0,593.6 C305.3,595.9 313.1,598.3 320.0,601.0 C326.9,603.7 338.0,608.5 341.6,610.0"/><path d="M324.0,760.0 C327.5,760.7 337.3,763.3 345.0,764.0 C352.7,764.7 361.2,765.2 370.0,764.0 C378.8,762.8 393.3,758.2 398.0,757.0"/><path d="M84.0,690.0 C85.3,692.2 89.3,698.7 92.0,703.0 C94.7,707.3 98.7,713.8 100.0,716.0"/><path d="M158.0,604.0 C160.0,604.3 168.0,605.7 170.0,606.0"/><path d="M200.0,700.0 C205.0,700.8 220.0,703.0 230.0,705.0 C240.0,707.0 255.0,710.8 260.0,712.0"/></g><g filter="url(#bl3)" stroke="#dcdcdc" stroke-width="14"><path d="M105.0,738.0 C110.8,740.3 126.7,746.7 140.0,752.0 C153.3,757.3 170.0,763.2 185.0,770.0 C200.0,776.8 217.2,787.5 230.0,793.0 C242.8,798.5 252.3,802.7 262.0,803.0 C271.7,803.3 283.7,796.3 288.0,795.0"/><path d="M92.0,650.0 C91.3,656.7 88.3,678.0 88.0,690.0 C87.7,702.0 87.7,714.0 90.0,722.0 C92.3,730.0 100.0,735.3 102.0,738.0"/><path d="M300.0,765.0 C306.7,765.8 327.5,769.5 340.0,770.0 C352.5,770.5 369.2,768.3 375.0,768.0"/></g><g filter="url(#bl3)" stroke="none" fill="#d9d9d9"><ellipse cx="96" cy="700" rx="9" ry="17" transform="rotate(20,96,700)"/><ellipse cx="118" cy="640" rx="10" ry="22" transform="rotate(45,118,640)"/><ellipse cx="165" cy="609" rx="8" ry="8" transform="rotate(0,165,609)"/><ellipse cx="105" cy="735" rx="14" ry="7" transform="rotate(10,105,735)"/><ellipse cx="230" cy="700" rx="25" ry="8" transform="rotate(5,230,700)"/></g><g filter="url(#bl1)" stroke="#d0d0d0" stroke-width="2"><path d="M173.3,574.8 C174.4,577.3 177.4,584.4 180.0,590.0 C182.6,595.6 187.5,605.2 189.0,608.3"/><path d="M199.4,576.9 C200.0,579.1 202.1,586.5 203.0,590.0 C203.9,593.5 204.2,594.8 204.7,597.8 C205.1,600.8 205.5,606.5 205.7,608.3"/><path d="M228.7,574.8 C229.8,577.3 232.9,584.4 235.0,590.0 C237.1,595.6 240.2,605.2 241.3,608.3"/><path d="M212.0,556.0 C212.3,558.3 213.2,564.3 214.0,570.0 C214.8,575.7 216.5,586.7 217.0,590.0"/><path d="M195.0,683.0 C196.7,678.3 201.5,662.5 205.0,655.0 C208.5,647.5 211.0,643.5 216.0,638.0 C221.0,632.5 229.5,625.8 235.0,622.0 C240.5,618.2 244.0,616.7 249.0,615.0 C254.0,613.3 256.8,613.2 265.0,612.0 C273.2,610.8 288.8,607.7 298.0,608.0 C307.2,608.3 313.5,612.0 320.0,614.0 C326.5,616.0 331.0,616.0 337.0,620.0 C343.0,624.0 352.8,635.0 356.0,638.0"/><path d="M207.0,693.0 C210.8,689.5 222.5,676.8 230.0,672.0 C237.5,667.2 240.7,666.0 252.0,664.0 C263.3,662.0 285.0,659.0 298.0,660.0 C311.0,661.0 324.7,668.3 330.0,670.0"/><path d="M355.0,679.0 C356.0,683.5 360.3,698.3 361.0,706.0 C361.7,713.7 361.8,719.0 359.0,725.0 C356.2,731.0 346.5,739.2 344.0,742.0"/><path d="M88.0,706.0 C89.3,703.3 92.8,696.2 96.0,690.0 C99.2,683.8 105.2,672.5 107.0,669.0"/><path d="M87.0,662.0 C89.2,659.7 94.2,652.0 100.0,648.0 C105.8,644.0 118.3,639.7 122.0,638.0"/><path d="M96.0,645.0 C98.3,642.5 105.7,634.5 110.0,630.0 C114.3,625.5 120.0,620.0 122.0,618.0"/><path d="M126.0,734.0 C130.0,732.8 140.7,729.2 150.0,727.0 C159.3,724.8 170.3,720.8 182.0,721.0 C193.7,721.2 207.7,725.2 220.0,728.0 C232.3,730.8 250.0,736.3 256.0,738.0"/><path d="M135.0,748.0 C140.0,747.0 154.2,743.7 165.0,742.0 C175.8,740.3 189.2,736.7 200.0,738.0 C210.8,739.3 220.7,745.7 230.0,750.0 C239.3,754.3 251.7,761.7 256.0,764.0"/><path d="M200.0,764.0 C205.0,766.2 220.7,772.7 230.0,777.0 C239.3,781.3 246.8,786.2 256.0,790.0 C265.2,793.8 280.2,798.3 285.0,800.0"/><path d="M175.0,694.0 C179.2,693.0 191.3,690.3 200.0,688.0 C208.7,685.7 222.5,681.3 227.0,680.0"/><path d="M259.0,734.0 C265.2,736.5 286.8,745.2 296.0,749.0 C305.2,752.8 311.0,755.7 314.0,757.0"/><path d="M292.0,706.0 C292.8,710.0 295.5,722.2 297.0,730.0 C298.5,737.8 300.3,749.2 301.0,753.0"/><path d="M140.0,660.0 C141.7,665.0 146.7,680.8 150.0,690.0 C153.3,699.2 158.3,710.8 160.0,715.0"/><path d="M115.0,700.0 C117.5,703.3 124.2,714.2 130.0,720.0 C135.8,725.8 146.7,732.5 150.0,735.0"/><path d="M250.0,645.0 C253.3,648.3 264.2,656.7 270.0,665.0 C275.8,673.3 282.5,690.0 285.0,695.0"/><path d="M152.0,580.0 C153.0,583.3 157.0,596.7 158.0,600.0"/><path d="M310.0,575.0 C313.3,576.7 323.3,580.8 330.0,585.0 C336.7,589.2 346.7,597.5 350.0,600.0"/><path d="M372.0,640.0 C374.2,645.0 381.7,660.0 385.0,670.0 C388.3,680.0 390.8,695.0 392.0,700.0"/></g><g filter="url(#bl2)" stroke="#f3f3f3" stroke-width="4"><path d="M215.0,662.0 C219.2,658.3 230.8,644.8 240.0,640.0 C249.2,635.2 260.0,634.3 270.0,633.0 C280.0,631.7 290.0,630.0 300.0,632.0 C310.0,634.0 325.0,642.8 330.0,645.0"/><path d="M250.0,606.0 C254.2,604.5 266.7,597.8 275.0,597.0 C283.3,596.2 291.7,597.8 300.0,601.0 C308.3,604.2 320.8,613.5 325.0,616.0"/><path d="M182.0,600.0 C182.7,596.7 185.3,583.3 186.0,580.0"/><path d="M150.0,736.0 C158.3,735.2 185.0,730.0 200.0,731.0 C215.0,732.0 233.3,740.2 240.0,742.0"/><path d="M330.0,700.0 C332.5,704.2 342.5,720.8 345.0,725.0"/><path d="M120.0,690.0 C122.5,686.7 132.5,673.3 135.0,670.0"/></g></g></g>
<clipPath id="clipbf418"><use href="#bf" transform="translate(418.8,0.5)"/></clipPath>
<g transform="translate(418.8,0.5)">
<use href="#bf" fill="#e9e9e9" filter="url(#bl0)"/>
</g>
<g clip-path="url(#clipbf418)"><g transform="translate(418.8,0.5) translate(1134.7,554.7) scale(1.0173,1.0367) translate(-74,-546.5)" fill="none" stroke-linecap="round" stroke-linejoin="round"><g filter="url(#bl2)" stroke="#d6d6d6" stroke-width="6"><path d="M108.4,610.4 C111.2,610.0 119.4,608.4 125.0,608.0 C130.6,607.6 136.5,606.9 141.9,608.3 C147.3,609.7 153.2,614.3 157.6,616.6 C161.9,618.9 166.3,621.1 168.0,622.0"/><path d="M246.5,597.8 C247.4,596.3 249.4,591.6 252.0,589.0 C254.6,586.4 258.4,583.4 262.2,582.1 C266.0,580.8 270.6,580.1 275.0,581.0 C279.4,581.9 284.2,585.2 288.4,587.3 C292.6,589.4 294.7,591.3 300.0,593.6 C305.3,595.9 313.1,598.3 320.0,601.0 C326.9,603.7 338.0,608.5 341.6,610.0"/><path d="M324.0,760.0 C327.5,760.7 337.3,763.3 345.0,764.0 C352.7,764.7 361.2,765.2 370.0,764.0 C378.8,762.8 393.3,758.2 398.0,757.0"/><path d="M84.0,690.0 C85.3,692.2 89.3,698.7 92.0,703.0 C94.7,707.3 98.7,713.8 100.0,716.0"/><path d="M158.0,604.0 C160.0,604.3 168.0,605.7 170.0,606.0"/><path d="M200.0,700.0 C205.0,700.8 220.0,703.0 230.0,705.0 C240.0,707.0 255.0,710.8 260.0,712.0"/></g><g filter="url(#bl3)" stroke="#dcdcdc" stroke-width="14"><path d="M105.0,738.0 C110.8,740.3 126.7,746.7 140.0,752.0 C153.3,757.3 170.0,763.2 185.0,770.0 C200.0,776.8 217.2,787.5 230.0,793.0 C242.8,798.5 252.3,802.7 262.0,803.0 C271.7,803.3 283.7,796.3 288.0,795.0"/><path d="M92.0,650.0 C91.3,656.7 88.3,678.0 88.0,690.0 C87.7,702.0 87.7,714.0 90.0,722.0 C92.3,730.0 100.0,735.3 102.0,738.0"/><path d="M300.0,765.0 C306.7,765.8 327.5,769.5 340.0,770.0 C352.5,770.5 369.2,768.3 375.0,768.0"/></g><g filter="url(#bl3)" stroke="none" fill="#d9d9d9"><ellipse cx="96" cy="700" rx="9" ry="17" transform="rotate(20,96,700)"/><ellipse cx="118" cy="640" rx="10" ry="22" transform="rotate(45,118,640)"/><ellipse cx="165" cy="609" rx="8" ry="8" transform="rotate(0,165,609)"/><ellipse cx="105" cy="735" rx="14" ry="7" transform="rotate(10,105,735)"/><ellipse cx="230" cy="700" rx="25" ry="8" transform="rotate(5,230,700)"/></g><g filter="url(#bl1)" stroke="#d0d0d0" stroke-width="2"><path d="M173.3,574.8 C174.4,577.3 177.4,584.4 180.0,590.0 C182.6,595.6 187.5,605.2 189.0,608.3"/><path d="M199.4,576.9 C200.0,579.1 202.1,586.5 203.0,590.0 C203.9,593.5 204.2,594.8 204.7,597.8 C205.1,600.8 205.5,606.5 205.7,608.3"/><path d="M228.7,574.8 C229.8,577.3 232.9,584.4 235.0,590.0 C237.1,595.6 240.2,605.2 241.3,608.3"/><path d="M212.0,556.0 C212.3,558.3 213.2,564.3 214.0,570.0 C214.8,575.7 216.5,586.7 217.0,590.0"/><path d="M195.0,683.0 C196.7,678.3 201.5,662.5 205.0,655.0 C208.5,647.5 211.0,643.5 216.0,638.0 C221.0,632.5 229.5,625.8 235.0,622.0 C240.5,618.2 244.0,616.7 249.0,615.0 C254.0,613.3 256.8,613.2 265.0,612.0 C273.2,610.8 288.8,607.7 298.0,608.0 C307.2,608.3 313.5,612.0 320.0,614.0 C326.5,616.0 331.0,616.0 337.0,620.0 C343.0,624.0 352.8,635.0 356.0,638.0"/><path d="M207.0,693.0 C210.8,689.5 222.5,676.8 230.0,672.0 C237.5,667.2 240.7,666.0 252.0,664.0 C263.3,662.0 285.0,659.0 298.0,660.0 C311.0,661.0 324.7,668.3 330.0,670.0"/><path d="M355.0,679.0 C356.0,683.5 360.3,698.3 361.0,706.0 C361.7,713.7 361.8,719.0 359.0,725.0 C356.2,731.0 346.5,739.2 344.0,742.0"/><path d="M88.0,706.0 C89.3,703.3 92.8,696.2 96.0,690.0 C99.2,683.8 105.2,672.5 107.0,669.0"/><path d="M87.0,662.0 C89.2,659.7 94.2,652.0 100.0,648.0 C105.8,644.0 118.3,639.7 122.0,638.0"/><path d="M96.0,645.0 C98.3,642.5 105.7,634.5 110.0,630.0 C114.3,625.5 120.0,620.0 122.0,618.0"/><path d="M126.0,734.0 C130.0,732.8 140.7,729.2 150.0,727.0 C159.3,724.8 170.3,720.8 182.0,721.0 C193.7,721.2 207.7,725.2 220.0,728.0 C232.3,730.8 250.0,736.3 256.0,738.0"/><path d="M135.0,748.0 C140.0,747.0 154.2,743.7 165.0,742.0 C175.8,740.3 189.2,736.7 200.0,738.0 C210.8,739.3 220.7,745.7 230.0,750.0 C239.3,754.3 251.7,761.7 256.0,764.0"/><path d="M200.0,764.0 C205.0,766.2 220.7,772.7 230.0,777.0 C239.3,781.3 246.8,786.2 256.0,790.0 C265.2,793.8 280.2,798.3 285.0,800.0"/><path d="M175.0,694.0 C179.2,693.0 191.3,690.3 200.0,688.0 C208.7,685.7 222.5,681.3 227.0,680.0"/><path d="M259.0,734.0 C265.2,736.5 286.8,745.2 296.0,749.0 C305.2,752.8 311.0,755.7 314.0,757.0"/><path d="M292.0,706.0 C292.8,710.0 295.5,722.2 297.0,730.0 C298.5,737.8 300.3,749.2 301.0,753.0"/><path d="M140.0,660.0 C141.7,665.0 146.7,680.8 150.0,690.0 C153.3,699.2 158.3,710.8 160.0,715.0"/><path d="M115.0,700.0 C117.5,703.3 124.2,714.2 130.0,720.0 C135.8,725.8 146.7,732.5 150.0,735.0"/><path d="M250.0,645.0 C253.3,648.3 264.2,656.7 270.0,665.0 C275.8,673.3 282.5,690.0 285.0,695.0"/><path d="M152.0,580.0 C153.0,583.3 157.0,596.7 158.0,600.0"/><path d="M310.0,575.0 C313.3,576.7 323.3,580.8 330.0,585.0 C336.7,589.2 346.7,597.5 350.0,600.0"/><path d="M372.0,640.0 C374.2,645.0 381.7,660.0 385.0,670.0 C388.3,680.0 390.8,695.0 392.0,700.0"/></g><g filter="url(#bl2)" stroke="#f3f3f3" stroke-width="4"><path d="M215.0,662.0 C219.2,658.3 230.8,644.8 240.0,640.0 C249.2,635.2 260.0,634.3 270.0,633.0 C280.0,631.7 290.0,630.0 300.0,632.0 C310.0,634.0 325.0,642.8 330.0,645.0"/><path d="M250.0,606.0 C254.2,604.5 266.7,597.8 275.0,597.0 C283.3,596.2 291.7,597.8 300.0,601.0 C308.3,604.2 320.8,613.5 325.0,616.0"/><path d="M182.0,600.0 C182.7,596.7 185.3,583.3 186.0,580.0"/><path d="M150.0,736.0 C158.3,735.2 185.0,730.0 200.0,731.0 C215.0,732.0 233.3,740.2 240.0,742.0"/><path d="M330.0,700.0 C332.5,704.2 342.5,720.8 345.0,725.0"/><path d="M120.0,690.0 C122.5,686.7 132.5,673.3 135.0,670.0"/></g></g></g>
<text x="50.42" y="480.76" font-size="43.82" textLength="21.90" lengthAdjust="spacingAndGlyphs" fill="#000" font-weight="bold">c</text>
<text x="248.89" y="520.97" font-size="22.71" textLength="21.76" lengthAdjust="spacingAndGlyphs" fill="#000">To</text>
<circle cx="346.5" cy="625.8" r="14.4" fill="#d9f1fb"/>
<circle cx="346.5" cy="625.8" r="12.2" fill="#1e74bc" stroke="#1767a9" stroke-width="0.8"/>
<circle cx="343.3" cy="670.6" r="11.2" fill="#d9f1fb"/>
<circle cx="343.3" cy="670.6" r="9" fill="#1e74bc" stroke="#1767a9" stroke-width="0.8"/>
<circle cx="220.2" cy="641.4" r="5.2" fill="#e3f3fb"/>
<circle cx="220.2" cy="641.4" r="2.2" fill="#1a5a8c"/>
<circle cx="177.5" cy="752.5" r="5.8" fill="#d9f1fb"/>
<circle cx="177.5" cy="752.5" r="3.6" fill="#1e74bc" stroke="#1767a9" stroke-width="0.8"/>
<polygon points="322.0,667.6 248.6,646.7 251.4,636.6 226.9,642.4 244.7,660.2 247.6,650.1 321.0,671.0" fill="#000"/>
<polygon points="331.5,674.1 203.2,741.0 198.4,731.7 183.8,753.2 209.8,753.5 205.0,744.3 333.3,677.3" fill="#000"/>
<polygon points="336.4,667.0 337.9,657.0 344.1,657.9 334.3,633.5 317.9,654.0 324.1,654.9 322.6,665.0" fill="#000"/>
<polygon points="354.2,638.8 351.9,652.2 346.7,651.2 352.2,664.8 362.0,653.9 356.8,653.0 359.2,639.6" fill="#000"/>
<text x="128.16" y="568.80" font-size="22.90" textLength="23.47" lengthAdjust="spacingAndGlyphs" fill="#f25a22" stroke="#f25a22" stroke-width="0.35">PL</text>
<text x="175.28" y="649.47" font-size="23.10" textLength="30.55" lengthAdjust="spacingAndGlyphs" fill="#f25a22" stroke="#f25a22" stroke-width="0.35">SM</text>
<text x="363.76" y="628.16" font-size="23.54" textLength="42.24" lengthAdjust="spacingAndGlyphs" fill="#f25a22" stroke="#f25a22" stroke-width="0.35">lPFC</text>
<text x="364.40" y="679.97" font-size="22.82" textLength="39.68" lengthAdjust="spacingAndGlyphs" fill="#f25a22" stroke="#f25a22" stroke-width="0.35">ACC</text>
<text x="164.97" y="778.30" font-size="22.46" textLength="19.36" lengthAdjust="spacingAndGlyphs" fill="#f25a22" stroke="#f25a22" stroke-width="0.35">TL</text>
<text x="659.22" y="521.78" font-size="22.14" textLength="51.88" lengthAdjust="spacingAndGlyphs" fill="#000">From</text>
<circle cx="772.1" cy="625.8" r="7.8" fill="#d9f1fb"/>
<circle cx="772.1" cy="625.8" r="5.6" fill="#1e74bc" stroke="#1767a9" stroke-width="0.8"/>
<circle cx="769.8" cy="670.9" r="12.4" fill="#d9f1fb"/>
<circle cx="769.8" cy="670.9" r="10.2" fill="#1e74bc" stroke="#1767a9" stroke-width="0.8"/>
<circle cx="645.1" cy="643" r="6.2" fill="#d9f1fb"/>
<circle cx="645.1" cy="643" r="4" fill="#1e74bc" stroke="#1767a9" stroke-width="0.8"/>
<circle cx="601.9" cy="753.8" r="9.7" fill="#d9f1fb"/>
<circle cx="601.9" cy="753.8" r="7.5" fill="#1e74bc" stroke="#1767a9" stroke-width="0.8"/>
<circle cx="583.7" cy="569" r="1.6" fill="#888"/>
<polygon points="589.1,574.4 752.7,620.3 751.9,623.4 761.6,622.0 754.0,615.7 753.1,618.8 589.5,573.0" fill="#000"/>
<polygon points="655.0,643.7 750.0,630.9 750.4,634.2 758.8,629.0 749.3,626.2 749.8,629.5 654.8,642.3" fill="#000"/>
<polygon points="608.0,755.6 724.0,698.8 731.9,714.9 758.2,677.0 712.1,674.5 720.0,690.7 604.0,747.6" fill="#000"/>
<polygon points="767.4,661.9 768.7,652.6 773.7,653.3 765.1,631.9 750.9,650.1 755.9,650.8 754.6,660.1" fill="#000"/>
<polygon points="777.4,636.9 774.7,651.9 770.0,651.1 776.3,664.4 786.7,654.0 782.0,653.2 784.6,638.1" fill="#000"/>
<text x="551.31" y="576.30" font-size="23.33" textLength="24.35" lengthAdjust="spacingAndGlyphs" fill="#f25a22" stroke="#f25a22" stroke-width="0.35">PL</text>
<text x="600.98" y="652.47" font-size="22.82" textLength="30.55" lengthAdjust="spacingAndGlyphs" fill="#f25a22" stroke="#f25a22" stroke-width="0.35">SM</text>
<text x="783.46" y="631.27" font-size="23.40" textLength="42.45" lengthAdjust="spacingAndGlyphs" fill="#f25a22" stroke="#f25a22" stroke-width="0.35">lPFC</text>
<text x="789.00" y="682.36" font-size="23.66" textLength="39.68" lengthAdjust="spacingAndGlyphs" fill="#f25a22" stroke="#f25a22" stroke-width="0.35">ACC</text>
<text x="587.51" y="785.30" font-size="23.62" textLength="22.82" lengthAdjust="spacingAndGlyphs" fill="#f25a22" stroke="#f25a22" stroke-width="0.35">TL</text>
<text x="843.46" y="766.08" font-size="21.57" textLength="33.58" lengthAdjust="spacingAndGlyphs" fill="#000">511</text>
<text x="771.35" y="814.43" font-size="26.62" textLength="51.21" lengthAdjust="spacingAndGlyphs" fill="#4a4a4a">CGC</text>
<polygon points="768.7,826.7 824.0,820.0 824.0,834.0" fill="#000"/>
<text x="764.82" y="853.00" font-size="19.72" textLength="12.28" lengthAdjust="spacingAndGlyphs" fill="#000">0</text>
<text x="810.66" y="852.99" font-size="21.27" textLength="25.78" lengthAdjust="spacingAndGlyphs" fill="#000">0.1</text>
<text x="1040.84" y="505.00" font-size="46.07" textLength="16.96" lengthAdjust="spacingAndGlyphs" fill="#000" font-weight="bold">f</text>
<text x="1272.27" y="521.17" font-size="22.57" textLength="22.61" lengthAdjust="spacingAndGlyphs" fill="#000">To</text>
<circle cx="1402" cy="616" r="46.2" fill="#d9f1fb"/>
<circle cx="1402" cy="616" r="44" fill="#1e74bc" stroke="#1767a9" stroke-width="0.8"/>
<circle cx="1396.3" cy="704" r="32.7" fill="#d9f1fb"/>
<circle cx="1396.3" cy="704" r="30.5" fill="#1e74bc" stroke="#1767a9" stroke-width="0.8"/>
<circle cx="1353" cy="765" r="53.2" fill="#d9f1fb"/>
<circle cx="1353" cy="765" r="51" fill="#1e74bc" stroke="#1767a9" stroke-width="0.8"/>
<circle cx="1182.8" cy="697.2" r="14.8" fill="#d9f1fb"/>
<circle cx="1182.8" cy="697.2" r="12.6" fill="#1e74bc" stroke="#1767a9" stroke-width="0.8"/>
<circle cx="1193.7" cy="680.9" r="6.4" fill="#d9f1fb"/>
<circle cx="1193.7" cy="680.9" r="4.2" fill="#1e74bc" stroke="#1767a9" stroke-width="0.8"/>
<circle cx="1304.2" cy="645.5" r="6.8" fill="#d9f1fb"/>
<circle cx="1304.2" cy="645.5" r="4.6" fill="#1e74bc" stroke="#1767a9" stroke-width="0.8"/>
<polygon points="1372.8,702.7 1223.7,702.3 1223.7,686.6 1194.9,703.7 1223.7,721.0 1223.7,705.3 1372.8,705.7" fill="#000"/>
<polygon points="1334.1,763.8 1223.8,697.1 1231.2,684.9 1199.5,683.2 1215.7,710.5 1223.1,698.3 1333.3,765.0" fill="#000"/>
<polygon points="1399.5,623.2 1391.8,679.3 1388.1,678.8 1393.5,690.6 1401.9,680.7 1398.2,680.1 1405.9,624.0" fill="#000"/>
<polygon points="1416.2,691.2 1422.9,646.2 1429.1,647.1 1418.7,622.3 1401.4,643.0 1407.6,643.9 1400.8,688.8" fill="#000"/>
<polygon points="1384.0,715.1 1367.4,740.5 1359.0,735.0 1356.5,771.6 1389.1,754.7 1380.7,749.2 1397.4,723.9" fill="#000"/>
<text x="1172.63" y="658.20" font-size="23.33" textLength="24.02" lengthAdjust="spacingAndGlyphs" fill="#f25a22" stroke="#f25a22" stroke-width="0.35">PL</text>
<text x="1250.78" y="652.77" font-size="22.54" textLength="30.77" lengthAdjust="spacingAndGlyphs" fill="#f25a22" stroke="#f25a22" stroke-width="0.35">SM</text>
<text x="1157.53" y="724.70" font-size="23.48" textLength="21.35" lengthAdjust="spacingAndGlyphs" fill="#f25a22" stroke="#f25a22" stroke-width="0.35">TL</text>
<text x="1383.54" y="618.97" font-size="23.27" textLength="42.98" lengthAdjust="spacingAndGlyphs" fill="#f25a22" stroke="#f25a22" stroke-width="0.35">lPFC</text>
<text x="1378.30" y="711.16" font-size="23.80" textLength="40.70" lengthAdjust="spacingAndGlyphs" fill="#f25a22" stroke="#f25a22" stroke-width="0.35">ACC</text>
<text x="1331.82" y="792.46" font-size="23.66" textLength="27.03" lengthAdjust="spacingAndGlyphs" fill="#f25a22" stroke="#f25a22" stroke-width="0.35">OF</text>
<text x="1698.62" y="521.77" font-size="23.43" textLength="51.78" lengthAdjust="spacingAndGlyphs" fill="#000">From</text>
<circle cx="1723.2" cy="645" r="36.2" fill="#d9f1fb"/>
<circle cx="1723.2" cy="645" r="34" fill="#1e74bc" stroke="#1767a9" stroke-width="0.8"/>
<circle cx="1822" cy="616.7" r="28.7" fill="#d9f1fb"/>
<circle cx="1822" cy="616.7" r="26.5" fill="#1e74bc" stroke="#1767a9" stroke-width="0.8"/>
<circle cx="1813.7" cy="704" r="63.2" fill="#d9f1fb"/>
<circle cx="1813.7" cy="704" r="61" fill="#1e74bc" stroke="#1767a9" stroke-width="0.8"/>
<circle cx="1772" cy="767" r="20.2" fill="#d9f1fb"/>
<circle cx="1772" cy="767" r="18" fill="#1e74bc" stroke="#1767a9" stroke-width="0.8"/>
<circle cx="1600.9" cy="697.5" r="6.7" fill="#d9f1fb"/>
<circle cx="1600.9" cy="697.5" r="4.5" fill="#1e74bc" stroke="#1767a9" stroke-width="0.8"/>
<circle cx="1611.5" cy="681" r="1.6" fill="#888"/>
<polygon points="1720.2,657.0 1777.3,691.2 1773.6,697.3 1796.4,698.2 1784.9,678.5 1781.2,684.6 1724.2,650.4" fill="#000"/>
<polygon points="1821.3,629.4 1813.3,677.1 1807.6,676.2 1814.3,690.5 1825.3,679.2 1819.6,678.2 1827.7,630.4" fill="#000"/>
<polygon points="1798.9,709.4 1783.4,733.5 1773.7,727.2 1774.3,763.3 1807.3,748.9 1797.7,742.7 1813.1,718.6" fill="#000"/>
<polygon points="1765.3,748.5 1780.1,726.0 1787.9,731.0 1789.4,706.9 1767.8,717.8 1775.6,722.9 1760.7,745.5" fill="#000"/>
<line x1="1604.00" y1="699.00" x2="1762.00" y2="763.50" stroke="#000" stroke-width="1.2"/>
<polygon points="1756.3,769.7 1761.5,756.3 1770.8,767.9" fill="#000"/>
<text x="1699.58" y="648.36" font-size="23.80" textLength="30.77" lengthAdjust="spacingAndGlyphs" fill="#f25a22" stroke="#f25a22" stroke-width="0.35">SM</text>
<text x="1800.27" y="623.26" font-size="23.54" textLength="42.14" lengthAdjust="spacingAndGlyphs" fill="#f25a22" stroke="#f25a22" stroke-width="0.35">lPFC</text>
<text x="1801.50" y="710.75" font-size="24.65" textLength="39.89" lengthAdjust="spacingAndGlyphs" fill="#f25a22" stroke="#f25a22" stroke-width="0.35">ACC</text>
<text x="1746.79" y="806.07" font-size="22.68" textLength="28.20" lengthAdjust="spacingAndGlyphs" fill="#f25a22" stroke="#f25a22" stroke-width="0.35">OF</text>
<text x="1603.28" y="671.40" font-size="23.33" textLength="24.79" lengthAdjust="spacingAndGlyphs" fill="#f25a22" stroke="#f25a22" stroke-width="0.35">PL</text>
<text x="1591.23" y="727.60" font-size="21.45" textLength="21.35" lengthAdjust="spacingAndGlyphs" fill="#f25a22" stroke="#f25a22" stroke-width="0.35">TL</text>
<text x="1910.35" y="766.09" font-size="21.27" textLength="35.57" lengthAdjust="spacingAndGlyphs" fill="#000">384</text>
<text x="1821.56" y="814.43" font-size="26.62" textLength="50.69" lengthAdjust="spacingAndGlyphs" fill="#4a4a4a">CGC</text>
<polygon points="1821.2,834.0 1875.6,827.5 1875.6,840.7" fill="#000"/>
<text x="1818.02" y="860.00" font-size="20.42" textLength="12.28" lengthAdjust="spacingAndGlyphs" fill="#000">0</text>
<text x="1862.38" y="859.99" font-size="21.13" textLength="28.44" lengthAdjust="spacingAndGlyphs" fill="#000">0.5</text>
</svg>
</body></html>
